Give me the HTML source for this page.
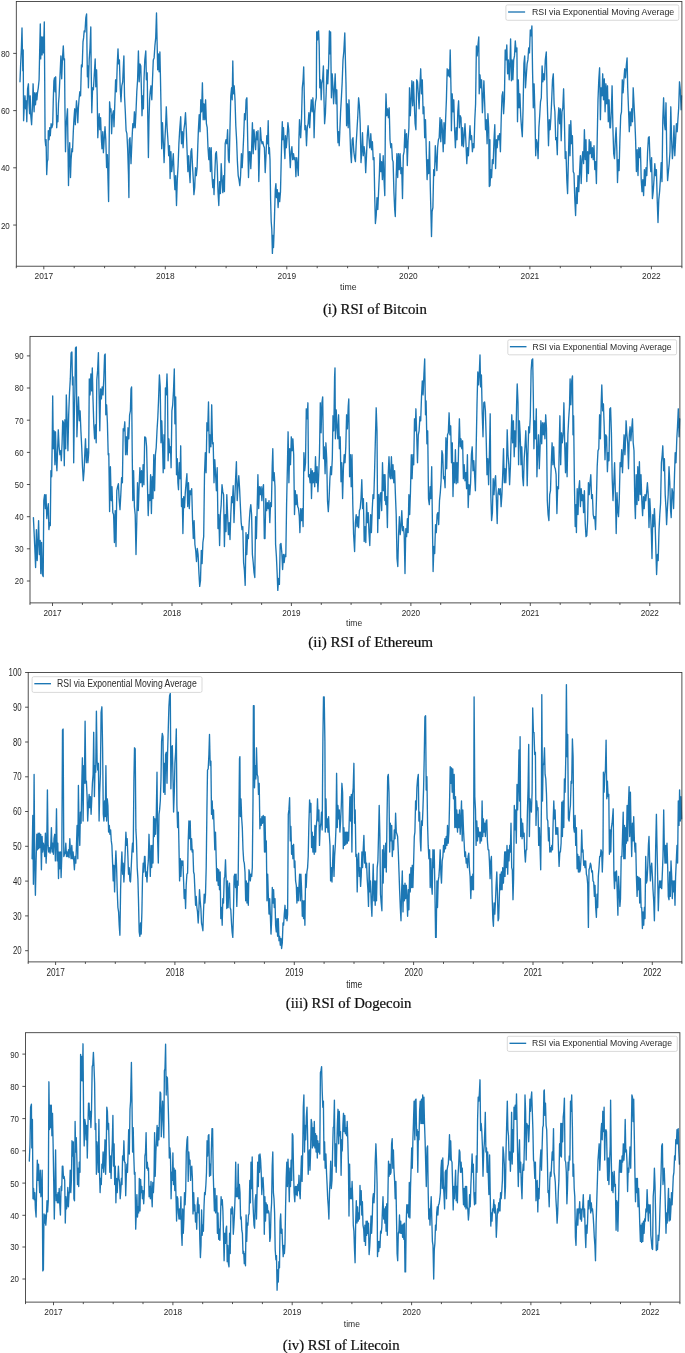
<!DOCTYPE html>
<html><head><meta charset="utf-8"><title>RSI</title>
<style>html,body{margin:0;padding:0;background:#fff}svg{display:block}text{font-family:"Liberation Sans",sans-serif;fill:#2a2a2a}.cap{font-family:"Liberation Serif",serif;fill:#111}</style></head><body>
<svg width="685" height="1353" viewBox="0 0 685 1353">
<defs><filter id="b" x="-2%" y="-2%" width="104%" height="104%"><feGaussianBlur stdDeviation="0.45"/></filter></defs>
<rect width="685" height="1353" fill="#fff"/>
<g filter="url(#b)">
<polyline points="20.0,81.8 20.6,65.9 21.4,47.9 22.0,27.9 22.4,48.9 22.8,70.8 23.2,49.9 23.6,120.7 24.4,103.8 25.0,95.8 25.6,108.8 26.2,100.8 26.8,121.7 27.6,88.8 28.4,83.8 29.0,103.8 29.6,113.7 30.2,95.8 30.8,115.7 31.6,124.7 32.4,107.8 33.1,83.8 33.7,101.8 34.1,111.8 34.7,92.8 35.5,104.8 36.3,92.8 36.9,99.8 37.5,92.8 38.3,87.8 39.1,79.8 39.7,49.9 40.3,23.9 40.7,58.9 41.5,36.9 42.1,54.9 42.9,36.9 43.5,52.9 44.3,22.0 44.7,79.8 45.1,139.7 45.7,145.7 46.1,139.7 46.7,174.6 47.3,161.6 47.9,159.6 48.3,130.7 49.1,139.7 49.7,127.7 50.3,135.7 51.1,123.7 51.9,127.7 52.7,124.7 53.3,99.8 53.9,80.8 54.5,77.8 55.1,91.8 55.7,76.8 56.3,107.8 56.7,127.7 57.3,115.7 57.9,121.7 58.5,103.8 59.1,95.8 59.9,77.8 60.9,55.9 61.7,78.8 62.5,57.9 63.3,45.9 63.9,59.9 64.5,58.9 64.9,103.8 65.5,151.7 66.1,127.7 66.7,117.7 67.5,108.8 67.9,139.7 68.5,185.6 69.1,155.7 69.7,142.7 70.5,177.6 71.1,159.6 71.9,148.7 72.5,151.7 73.3,131.7 73.9,119.7 74.7,108.8 75.3,124.7 75.9,111.8 76.5,100.8 77.3,111.8 77.8,122.7 78.4,107.8 79.0,99.8 79.8,91.8 80.6,95.8 81.4,64.9 82.2,66.9 83.0,41.9 83.6,37.9 84.2,30.9 85.0,31.9 85.8,18.0 86.6,14.0 87.0,49.9 87.4,76.8 88.0,65.9 88.4,87.8 89.2,59.9 90.0,47.9 90.8,26.9 91.2,69.8 91.8,112.7 92.6,87.8 93.4,89.8 94.2,75.8 95.2,58.9 95.8,86.8 96.6,69.8 97.2,95.8 97.8,137.7 98.6,119.7 99.2,113.7 99.8,129.7 100.6,117.7 101.4,139.7 102.0,148.7 102.8,131.7 103.4,152.7 104.2,139.7 105.0,126.7 105.8,139.7 106.6,167.6 107.4,154.7 108.0,179.6 108.6,201.6 109.0,159.6 109.6,101.8 110.4,111.8 111.0,108.8 111.6,133.7 112.4,115.7 113.4,110.8 114.0,126.7 114.8,103.8 115.6,79.8 116.4,91.8 117.2,65.9 118.0,48.9 118.6,63.9 119.4,59.9 120.2,87.8 121.0,101.8 121.8,85.8 122.7,81.8 123.3,67.8 123.9,55.9 124.5,95.8 125.3,111.8 126.1,130.7 126.9,133.7 127.7,149.7 128.5,175.6 128.9,197.6 129.3,139.7 130.0,137.7 131.0,163.6 132.0,139.7 132.8,123.7 133.6,127.7 134.4,111.8 135.2,127.7 136.0,111.8 136.8,91.8 137.6,79.8 138.4,50.9 139.2,81.8 140.0,63.9 140.8,65.9 141.4,89.8 142.0,115.7 142.8,95.8 143.4,108.8 144.0,79.8 144.8,59.9 145.8,50.9 146.4,79.8 147.2,72.8 147.8,119.7 148.4,157.6 149.0,119.7 149.6,99.8 150.2,91.8 151.0,85.8 151.8,99.8 152.5,79.8 153.3,59.9 154.1,57.9 154.9,45.9 155.7,37.9 156.5,13.0 157.1,41.9 157.7,69.8 158.5,53.9 159.1,71.8 159.9,51.9 160.5,79.8 161.1,111.8 161.7,148.7 162.5,122.7 163.3,141.7 164.1,162.6 164.9,139.7 165.7,123.7 166.3,106.8 167.1,127.7 167.9,139.7 168.7,155.7 169.5,145.7 170.1,178.6 170.9,151.7 171.7,171.6 172.5,163.6 173.3,153.7 174.1,173.6 174.9,189.6 175.7,175.6 176.5,205.5 177.3,179.6 178.1,165.6 178.9,143.7 179.7,129.7 180.7,116.7 181.5,143.7 182.3,131.7 183.1,147.7 183.9,129.7 184.7,123.7 185.5,112.7 186.3,129.7 187.1,151.7 187.9,171.6 188.7,155.7 189.5,173.6 190.1,182.6 190.9,151.7 191.7,148.7 192.5,165.6 193.3,179.6 193.9,194.6 194.7,187.6 195.5,167.6 196.3,175.6 197.1,167.6 197.8,145.7 198.4,129.7 199.2,114.7 200.0,131.7 200.8,99.8 201.6,111.8 202.4,82.8 203.2,119.7 204.0,103.8 204.8,119.7 205.6,99.8 206.4,123.7 207.2,127.7 208.0,147.7 208.8,159.6 209.6,147.7 210.4,171.6 211.2,147.7 212.0,175.6 212.8,187.6 213.6,179.6 214.0,194.6 214.8,173.6 215.6,153.7 216.4,151.7 217.2,165.6 218.0,191.6 218.8,205.5 219.6,181.6 220.4,193.6 221.2,163.6 222.0,179.6 222.8,192.6 223.6,175.6 224.4,191.6 225.2,143.7 226.0,139.7 226.8,143.7 227.6,129.7 228.4,159.6 229.2,162.6 230.0,127.7 230.8,95.8 231.6,87.8 232.2,99.8 232.8,60.9 233.4,93.8 234.2,85.8 235.0,99.8 235.8,125.7 236.6,139.7 237.4,161.6 238.2,175.6 239.0,179.6 239.8,185.6 240.6,175.6 241.4,153.7 242.2,167.6 242.9,153.7 243.7,135.7 244.5,113.7 245.3,119.7 246.1,99.8 246.9,97.8 247.7,139.7 248.5,177.6 249.3,151.7 249.9,157.6 250.0,151.7 250.8,168.6 251.6,149.7 252.4,122.7 253.2,153.7 254.0,129.7 254.8,139.7 255.6,149.7 256.4,131.7 257.2,139.7 258.0,130.7 258.8,181.6 259.6,151.7 260.4,127.7 261.2,139.7 262.0,143.7 262.8,141.7 263.6,145.7 264.4,147.7 265.2,172.6 266.0,155.7 266.8,135.7 267.6,143.7 268.2,120.7 268.8,153.7 269.4,147.7 270.0,159.6 270.6,199.6 271.2,221.5 271.8,229.5 272.4,253.4 272.9,235.5 273.5,247.5 274.1,231.5 274.7,209.5 275.3,189.6 275.9,183.6 276.5,197.6 277.3,189.6 278.1,207.5 278.9,192.6 279.7,201.6 280.5,191.6 281.1,165.6 281.7,139.7 282.3,121.7 282.9,139.7 283.5,127.7 284.3,147.7 284.9,158.6 285.5,135.7 286.3,147.7 287.1,137.7 287.9,122.7 288.7,129.7 289.5,151.7 290.3,167.6 291.1,151.7 291.9,146.7 292.7,159.6 293.5,153.7 294.3,159.6 295.1,157.6 295.9,176.6 296.7,157.6 297.5,165.6 298.3,175.6 298.9,139.7 299.5,119.7 300.1,131.7 300.7,137.7 301.5,119.7 302.3,87.8 303.1,79.8 303.7,66.9 304.3,95.8 304.9,129.7 305.7,125.7 306.5,145.7 307.3,127.7 308.1,123.7 308.9,112.7 309.7,127.7 310.5,111.8 311.3,99.8 312.1,111.8 312.9,97.8 313.7,114.7 314.1,137.7 314.7,113.7 315.5,101.8 316.3,97.8 316.7,31.9 317.5,39.9 318.0,31.9 318.6,30.9 319.2,45.9 319.8,87.8 320.6,79.8 321.2,99.8 321.8,83.8 322.6,79.8 323.4,65.9 324.0,99.8 324.6,123.7 325.4,113.7 326.2,91.8 327.0,69.8 327.8,83.8 328.6,65.9 329.4,30.9 330.0,53.9 330.6,31.9 331.4,97.8 332.2,73.8 333.0,87.8 333.6,103.8 334.4,89.8 335.2,73.8 336.0,103.8 336.8,89.8 337.4,127.7 338.0,142.7 338.6,131.7 339.2,145.7 339.8,131.7 340.6,111.8 341.4,97.8 342.2,81.8 343.0,59.9 343.8,51.9 344.8,32.9 345.4,59.9 346.0,83.8 346.6,125.7 347.4,103.8 348.2,127.7 349.0,99.8 349.8,127.7 350.6,151.7 351.4,162.6 352.2,139.7 353.0,137.7 353.8,151.7 354.6,157.6 355.4,161.6 356.2,143.7 357.0,129.7 357.8,115.7 358.6,97.8 359.4,105.8 360.2,123.7 361.0,162.6 361.8,151.7 362.5,132.7 363.3,155.7 364.1,146.7 364.9,153.7 365.7,172.6 366.5,155.7 367.3,135.7 368.1,125.7 368.9,137.7 369.7,147.7 370.0,147.7 370.8,133.7 371.6,149.7 372.4,141.7 373.2,159.6 374.0,157.6 374.8,199.6 375.4,223.5 376.2,215.5 377.0,197.6 377.8,209.5 378.6,191.6 379.4,173.6 380.0,153.7 380.8,171.6 381.6,161.6 382.4,179.6 383.2,155.7 384.0,179.6 384.8,195.6 385.4,119.7 386.0,93.8 386.8,115.7 387.6,108.8 388.4,117.7 389.2,107.8 390.0,139.7 390.8,147.7 391.6,143.7 392.4,159.6 393.1,161.6 393.9,191.6 394.7,209.5 395.3,216.5 396.1,179.6 396.9,153.7 397.7,177.6 398.5,153.7 399.3,169.6 400.1,153.7 400.9,173.6 401.7,167.6 402.5,198.6 403.3,155.7 404.1,151.7 404.9,129.7 405.7,147.7 406.5,133.7 407.3,165.6 408.1,139.7 408.9,127.7 409.5,87.8 410.3,115.7 411.1,99.8 411.9,80.8 412.7,105.8 413.5,81.8 414.3,103.8 415.1,123.7 415.9,129.7 416.7,79.8 417.5,81.8 418.3,93.8 419.1,108.8 419.9,85.8 420.7,68.8 421.5,93.8 422.3,79.8 423.1,113.7 423.9,106.8 424.7,137.7 425.5,119.7 426.3,151.7 427.1,179.6 427.9,159.6 428.7,173.6 429.5,141.7 430.3,187.6 430.9,211.5 431.5,236.5 432.1,211.5 432.9,207.5 433.7,169.6 434.5,175.6 435.3,145.7 436.1,159.6 436.9,170.6 437.6,147.7 438.4,139.7 439.2,137.7 440.0,117.7 440.8,141.7 441.6,119.7 442.4,129.7 443.2,151.7 444.0,122.7 444.8,143.7 445.6,119.7 446.4,99.8 447.2,68.8 448.0,75.8 448.8,69.8 449.6,76.8 450.2,49.9 451.0,89.8 451.4,130.7 452.2,93.8 453.0,111.8 453.8,99.8 454.6,129.7 455.4,147.7 456.2,127.7 457.0,139.7 457.8,111.8 458.6,100.8 459.4,127.7 460.2,115.7 461.0,117.7 461.8,145.7 462.6,127.7 463.4,146.7 464.2,135.7 465.0,123.7 465.8,139.7 466.8,163.6 467.6,147.7 468.4,155.7 469.2,139.7 470.0,125.7 470.8,139.7 471.6,135.7 472.4,151.7 473.2,143.7 474.0,147.7 474.8,119.7 475.6,103.8 476.4,45.9 477.2,55.9 478.0,44.9 478.8,36.9 479.2,93.8 480.0,74.8 480.8,87.8 481.6,79.8 482.4,112.7 483.1,97.8 483.9,80.8 484.7,103.8 485.5,129.7 486.3,119.7 487.1,143.7 487.9,113.7 488.7,127.7 489.3,186.6 489.9,139.7 490.0,185.6 490.8,169.6 491.6,177.6 492.4,159.6 493.2,163.6 494.0,139.7 494.8,124.7 495.6,168.6 496.4,139.7 497.2,147.7 498.0,135.7 498.8,139.7 499.6,133.7 500.4,151.7 501.2,119.7 502.0,95.8 502.8,91.8 503.6,113.7 504.4,99.8 505.2,49.9 506.0,59.9 506.8,44.9 507.6,73.8 508.4,59.9 509.2,79.8 510.0,61.9 510.6,38.9 511.4,80.8 512.2,59.9 512.9,79.8 513.7,59.9 514.5,55.9 515.3,40.9 516.1,51.9 516.9,47.9 517.5,121.7 518.3,79.8 519.1,107.8 519.9,93.8 520.7,115.7 521.5,127.7 522.3,136.7 523.1,107.8 523.9,63.9 524.7,55.9 525.5,87.8 526.3,75.8 527.1,63.9 527.9,59.9 528.7,47.9 529.5,52.9 530.3,29.9 531.1,35.9 531.9,25.9 532.5,67.8 533.3,107.8 534.1,83.8 534.9,111.8 535.7,155.7 536.5,139.7 537.3,143.7 538.1,158.6 538.9,127.7 539.7,115.7 540.5,101.8 541.3,97.8 542.1,65.9 542.9,81.8 543.7,73.8 544.5,79.8 545.3,59.9 546.3,51.9 547.1,95.8 547.9,123.7 548.5,145.7 549.3,119.7 550.1,129.7 550.9,117.7 551.7,99.8 552.5,79.8 553.3,73.8 554.1,103.8 554.9,111.8 555.7,139.7 556.5,137.7 557.3,154.7 558.0,119.7 558.8,107.8 559.6,123.7 560.4,108.8 561.2,140.7 562.0,111.8 562.8,107.8 563.6,88.8 564.4,119.7 565.2,158.6 566.0,151.7 566.8,179.6 567.6,193.6 568.4,159.6 569.2,124.7 570.0,155.7 570.8,120.7 571.6,143.7 572.4,135.7 573.2,171.6 574.0,173.6 574.8,199.6 575.6,215.5 576.4,187.6 577.2,203.5 578.0,175.6 578.8,191.6 579.6,171.6 580.4,155.7 581.2,183.6 582.0,159.6 582.8,151.7 583.6,163.6 584.4,129.7 585.2,159.6 586.0,139.7 586.8,181.6 587.6,151.7 588.4,173.6 589.2,139.7 590.0,153.7 590.8,141.7 591.6,157.6 592.4,147.7 593.2,159.6 594.0,145.7 594.8,169.6 595.6,161.6 596.4,183.6 597.2,139.7 598.0,99.8 598.8,79.8 599.6,67.8 600.4,119.7 601.2,87.8 602.0,95.8 602.7,73.8 603.5,99.8 604.3,78.8 605.1,111.8 605.9,83.8 606.7,103.8 607.5,85.8 608.3,121.7 609.1,99.8 609.9,127.7 610.5,127.7 611.3,111.8 612.1,85.8 612.9,127.7 613.7,153.7 614.5,158.6 615.3,139.7 616.1,127.7 616.9,151.7 617.5,182.6 618.3,159.6 619.1,170.6 619.9,139.7 620.7,115.7 621.5,111.8 622.3,79.8 623.1,92.8 623.9,79.8 624.7,68.8 625.5,77.8 626.3,65.9 627.1,57.9 627.7,87.8 628.5,108.8 629.3,131.7 630.1,111.8 630.9,125.7 631.7,108.8 632.5,121.7 633.2,87.8 634.0,103.8 634.8,119.7 635.6,139.7 636.4,171.6 637.2,149.7 638.0,175.6 638.8,147.7 639.6,157.6 640.4,147.7 641.2,179.6 642.0,191.6 642.8,179.6 643.6,195.6 644.4,169.6 645.2,185.6 646.0,167.6 646.8,175.6 647.6,151.7 648.4,137.7 649.2,136.7 650.0,159.6 650.8,171.6 651.6,157.6 652.4,198.6 653.2,191.6 654.0,179.6 654.8,163.6 655.6,175.6 656.4,169.6 657.2,199.6 658.0,222.5 658.8,199.6 659.6,191.6 660.4,179.6 661.2,162.6 662.0,181.6 662.8,119.7 663.6,97.8 664.4,123.7 665.2,129.7 666.0,102.8 666.8,155.7 667.6,180.6 668.4,171.6 669.2,163.6 670.0,151.7 670.8,106.8 671.6,139.7 672.4,158.6 673.2,147.7 674.0,125.7 674.8,155.7 675.6,139.7 676.4,123.7 677.2,131.7 677.9,119.7 678.7,107.8 679.5,81.8 680.3,89.8 681.1,109.8 681.5,95.8" fill="none" stroke="#1f77b4" stroke-width="1.35" stroke-linejoin="round" stroke-linecap="round"/>
<rect x="16.3" y="1.5" width="665.6" height="264.7" fill="none" stroke="#333333" stroke-width="0.85"/>
<line x1="43.8" y1="266.2" x2="43.8" y2="269.3" stroke="#333333" stroke-width="0.85"/>
<line x1="74.2" y1="266.2" x2="74.2" y2="268.2" stroke="#333333" stroke-width="0.85"/>
<line x1="104.6" y1="266.2" x2="104.6" y2="268.2" stroke="#333333" stroke-width="0.85"/>
<line x1="134.9" y1="266.2" x2="134.9" y2="268.2" stroke="#333333" stroke-width="0.85"/>
<line x1="165.3" y1="266.2" x2="165.3" y2="269.3" stroke="#333333" stroke-width="0.85"/>
<line x1="195.7" y1="266.2" x2="195.7" y2="268.2" stroke="#333333" stroke-width="0.85"/>
<line x1="226.1" y1="266.2" x2="226.1" y2="268.2" stroke="#333333" stroke-width="0.85"/>
<line x1="256.5" y1="266.2" x2="256.5" y2="268.2" stroke="#333333" stroke-width="0.85"/>
<line x1="286.8" y1="266.2" x2="286.8" y2="269.3" stroke="#333333" stroke-width="0.85"/>
<line x1="317.2" y1="266.2" x2="317.2" y2="268.2" stroke="#333333" stroke-width="0.85"/>
<line x1="347.6" y1="266.2" x2="347.6" y2="268.2" stroke="#333333" stroke-width="0.85"/>
<line x1="378.0" y1="266.2" x2="378.0" y2="268.2" stroke="#333333" stroke-width="0.85"/>
<line x1="408.4" y1="266.2" x2="408.4" y2="269.3" stroke="#333333" stroke-width="0.85"/>
<line x1="438.7" y1="266.2" x2="438.7" y2="268.2" stroke="#333333" stroke-width="0.85"/>
<line x1="469.1" y1="266.2" x2="469.1" y2="268.2" stroke="#333333" stroke-width="0.85"/>
<line x1="499.5" y1="266.2" x2="499.5" y2="268.2" stroke="#333333" stroke-width="0.85"/>
<line x1="529.9" y1="266.2" x2="529.9" y2="269.3" stroke="#333333" stroke-width="0.85"/>
<line x1="560.3" y1="266.2" x2="560.3" y2="268.2" stroke="#333333" stroke-width="0.85"/>
<line x1="590.6" y1="266.2" x2="590.6" y2="268.2" stroke="#333333" stroke-width="0.85"/>
<line x1="621.0" y1="266.2" x2="621.0" y2="268.2" stroke="#333333" stroke-width="0.85"/>
<line x1="651.4" y1="266.2" x2="651.4" y2="269.3" stroke="#333333" stroke-width="0.85"/>
<line x1="16.3" y1="266.2" x2="16.3" y2="268.2" stroke="#333333" stroke-width="0.85"/>
<line x1="681.9" y1="266.2" x2="681.9" y2="268.2" stroke="#333333" stroke-width="0.85"/>
<text x="43.8" y="278.9" font-size="9.60" text-anchor="middle" textLength="18.6" lengthAdjust="spacingAndGlyphs">2017</text>
<text x="165.3" y="278.9" font-size="9.60" text-anchor="middle" textLength="18.6" lengthAdjust="spacingAndGlyphs">2018</text>
<text x="286.8" y="278.9" font-size="9.60" text-anchor="middle" textLength="18.6" lengthAdjust="spacingAndGlyphs">2019</text>
<text x="408.4" y="278.9" font-size="9.60" text-anchor="middle" textLength="18.6" lengthAdjust="spacingAndGlyphs">2020</text>
<text x="529.9" y="278.9" font-size="9.60" text-anchor="middle" textLength="18.6" lengthAdjust="spacingAndGlyphs">2021</text>
<text x="651.4" y="278.9" font-size="9.60" text-anchor="middle" textLength="18.6" lengthAdjust="spacingAndGlyphs">2022</text>
<line x1="13.2" y1="53.4" x2="16.3" y2="53.4" stroke="#333333" stroke-width="0.85"/>
<text x="0.9" y="56.9" font-size="9.60" textLength="8.9" lengthAdjust="spacingAndGlyphs">80</text>
<line x1="13.2" y1="110.6" x2="16.3" y2="110.6" stroke="#333333" stroke-width="0.85"/>
<text x="0.9" y="114.0" font-size="9.60" textLength="8.9" lengthAdjust="spacingAndGlyphs">60</text>
<line x1="13.2" y1="167.8" x2="16.3" y2="167.8" stroke="#333333" stroke-width="0.85"/>
<text x="0.9" y="171.2" font-size="9.60" textLength="8.9" lengthAdjust="spacingAndGlyphs">40</text>
<line x1="13.2" y1="225.05" x2="16.3" y2="225.05" stroke="#333333" stroke-width="0.85"/>
<text x="0.9" y="228.5" font-size="9.60" textLength="8.9" lengthAdjust="spacingAndGlyphs">20</text>
<text x="348.3" y="290.0" font-size="9.60" text-anchor="middle" textLength="16.4" lengthAdjust="spacingAndGlyphs">time</text>
<rect x="505.9" y="4.9" width="172.9" height="15.4" rx="1.6" fill="#fff" fill-opacity="0.8" stroke="#cfcfcf" stroke-width="0.8"/>
<line x1="508.1" y1="12.0" x2="525.1" y2="12.0" stroke="#1f77b4" stroke-width="1.35"/>
<text x="531.9" y="15.2" font-size="9.60" textLength="142.3" lengthAdjust="spacingAndGlyphs">RSI via Exponential Moving Average</text>
<text class="cap" stroke="#111" stroke-width="0.22" x="322.9" y="313.7" font-size="14.3" textLength="103.9" lengthAdjust="spacingAndGlyphs">(i) RSI of Bitcoin</text>
<polyline points="33.4,517.6 34.2,534.6 35.0,552.5 35.6,567.5 36.4,529.6 37.2,560.5 38.0,540.5 38.6,520.6 39.4,554.5 40.2,540.5 40.8,573.5 41.6,542.5 42.4,574.5 43.2,576.5 43.8,500.6 44.6,494.6 45.4,508.6 46.0,494.6 46.8,518.6 47.5,510.6 48.3,503.6 48.9,529.6 49.7,522.6 50.3,525.6 50.9,470.7 51.7,476.7 52.3,434.8 52.7,395.9 53.3,448.7 54.1,430.8 54.9,464.7 55.5,431.8 56.3,460.7 56.9,470.7 57.7,446.8 58.3,429.8 59.1,446.8 59.9,454.7 60.7,450.7 61.3,460.7 62.1,442.8 62.7,420.8 63.5,422.8 64.3,465.7 64.9,419.8 65.7,448.7 66.3,394.9 67.1,418.8 67.9,450.7 68.7,414.8 69.5,392.9 70.3,378.9 71.1,353.0 71.9,352.0 72.5,384.9 73.1,376.9 73.7,462.7 74.3,414.8 74.9,392.9 75.5,348.0 76.3,347.0 76.9,436.8 77.7,414.8 78.5,396.9 79.3,420.8 80.1,410.8 80.9,430.8 81.7,446.8 82.5,466.7 83.3,480.7 84.1,470.7 84.9,450.7 85.5,438.8 86.3,462.7 87.1,448.7 87.9,462.7 88.7,452.7 89.3,378.9 90.1,394.9 90.9,373.9 91.7,390.9 92.3,367.9 93.0,398.9 93.8,424.8 94.6,438.8 95.4,424.8 96.2,442.8 96.8,379.9 97.6,370.9 98.4,352.6 99.0,390.9 99.8,430.8 100.6,388.9 101.4,398.9 102.2,386.9 103.0,394.9 103.8,378.9 104.6,355.0 105.2,354.0 105.8,414.8 106.6,404.8 107.4,422.8 108.2,454.7 108.8,453.7 109.6,511.6 110.4,466.7 111.2,500.6 112.0,486.7 112.8,512.6 113.6,514.6 114.4,542.5 115.2,510.6 116.0,546.5 116.8,490.7 117.6,486.7 118.4,483.7 119.2,500.6 120.0,509.6 120.8,494.6 121.6,477.7 122.4,482.7 123.2,428.8 124.0,430.8 124.8,421.8 125.6,454.7 126.4,436.8 127.2,454.7 128.0,427.8 128.8,438.8 129.6,414.8 130.4,410.8 131.0,388.9 131.6,386.9 132.2,450.7 132.8,500.6 133.6,470.7 134.4,506.6 135.2,514.6 136.0,554.5 136.8,520.6 137.5,482.7 138.3,510.6 139.1,486.7 139.9,467.7 140.7,482.7 141.5,470.7 142.3,486.7 143.1,464.7 143.9,484.7 144.7,436.8 145.0,436.8 145.8,437.8 146.6,446.8 147.4,482.7 148.2,515.6 149.0,494.6 149.8,500.6 150.6,474.7 151.4,513.6 152.2,476.7 153.0,498.6 153.8,454.7 154.6,490.7 155.4,454.7 156.2,447.7 157.0,430.8 157.8,417.8 158.6,398.9 159.4,374.9 160.2,386.9 161.0,442.8 161.8,420.8 162.6,446.8 163.2,472.7 164.0,434.8 164.6,468.7 165.4,387.9 166.2,394.9 167.0,373.9 167.5,390.9 168.1,460.7 168.9,438.8 169.7,452.7 170.5,446.8 171.1,467.7 171.9,410.8 172.7,404.8 173.5,390.9 174.3,368.9 174.9,423.8 175.7,396.9 176.5,474.7 177.3,458.7 177.9,482.7 178.5,489.7 179.3,462.7 180.1,478.7 180.7,445.8 181.5,506.6 182.3,498.6 182.9,533.6 183.7,496.6 184.5,507.6 185.3,492.6 186.1,482.7 186.9,473.7 187.7,506.6 188.5,482.7 189.3,508.6 190.1,490.7 190.9,494.6 191.7,488.7 192.5,518.6 193.3,538.5 194.1,520.6 194.9,544.5 195.7,550.5 196.5,561.5 197.3,548.5 198.1,554.5 198.9,572.5 199.7,586.4 200.5,580.5 201.3,550.5 202.1,563.5 202.9,542.5 203.7,536.6 204.5,474.7 205.3,452.7 206.1,472.7 206.9,422.8 207.7,430.8 208.5,401.9 209.3,452.7 210.1,434.8 210.9,446.8 211.7,404.8 212.5,443.8 213.2,442.8 214.0,482.7 214.8,459.7 215.6,474.7 216.4,490.7 217.2,467.7 218.0,528.6 218.8,514.6 219.6,545.5 220.4,514.6 221.2,504.6 222.0,484.7 222.8,491.7 223.6,494.6 224.4,546.5 225.2,514.6 226.0,531.6 226.8,494.6 227.6,514.6 228.4,534.6 229.2,522.6 230.0,539.5 230.8,514.6 231.6,496.6 232.4,502.6 233.2,485.7 234.0,522.6 234.8,498.6 235.6,478.7 236.4,461.7 237.2,500.6 238.0,486.7 238.8,475.7 239.6,488.7 240.4,506.6 241.2,522.6 242.0,529.6 242.8,526.6 243.6,562.5 244.4,570.5 245.2,585.4 246.0,532.6 246.8,554.5 247.6,534.6 248.4,538.5 249.2,522.6 250.0,510.6 250.8,504.6 251.6,514.6 252.4,554.5 253.2,562.5 254.0,572.5 254.8,577.5 255.6,516.6 256.4,538.5 257.2,506.6 257.9,474.7 258.7,508.6 259.5,486.7 260.3,494.6 261.1,486.7 261.9,500.6 262.7,488.7 263.5,484.7 264.3,538.5 265.0,538.5 265.8,498.6 266.6,510.6 267.4,502.6 268.2,508.6 269.0,500.6 269.8,522.6 270.6,502.6 271.4,506.6 272.2,466.7 272.8,448.7 273.4,480.7 274.2,472.7 275.0,486.7 275.6,544.5 276.4,556.5 277.2,574.5 277.8,590.4 278.6,578.5 279.4,584.4 280.2,544.5 281.0,543.5 281.8,552.5 282.6,569.5 283.4,554.5 284.2,562.5 285.0,554.5 285.8,556.5 286.6,504.6 287.4,466.7 288.1,431.8 288.9,482.7 289.7,448.7 290.5,464.7 291.3,436.8 292.1,450.7 292.9,438.8 293.7,454.7 294.5,514.6 295.3,490.7 296.1,504.6 296.9,494.6 297.7,506.6 298.5,508.6 299.3,516.6 299.9,532.6 300.7,508.6 301.5,520.6 302.3,508.6 303.1,526.6 303.9,452.7 304.7,470.7 305.5,462.7 306.3,408.8 307.1,418.8 307.9,402.8 308.5,476.7 309.3,474.7 310.1,482.7 310.9,468.7 311.5,498.6 312.3,470.7 313.1,482.7 313.9,472.7 314.7,486.7 315.5,456.7 316.3,482.7 317.1,466.7 317.9,491.7 318.7,474.7 319.5,452.7 320.3,402.8 321.1,432.8 321.9,402.8 322.7,396.9 323.5,458.7 324.3,446.8 325.1,473.7 325.9,442.8 326.7,458.7 327.5,500.6 328.3,511.6 329.1,498.6 329.9,478.7 330.7,466.7 331.5,474.7 332.3,458.7 333.0,415.8 333.8,430.8 334.6,376.9 335.0,367.9 335.4,438.8 336.2,409.8 337.0,426.8 337.8,438.8 338.6,414.8 339.4,448.7 340.2,436.8 341.0,481.7 341.8,462.7 342.6,498.6 343.4,468.7 344.2,454.7 345.0,462.7 345.8,446.8 346.6,414.8 347.4,428.8 348.2,406.8 348.8,398.9 349.6,476.7 350.4,454.7 351.2,486.7 352.0,454.7 352.8,504.6 353.6,534.6 354.6,551.5 355.4,522.6 356.2,514.6 357.0,526.6 357.8,516.6 358.6,527.6 359.4,510.6 360.2,508.6 361.0,498.6 361.8,479.7 362.6,508.6 363.4,498.6 364.2,541.5 365.0,526.6 365.8,542.5 366.6,502.6 367.4,522.6 368.2,512.6 369.0,532.6 369.8,545.5 370.6,514.6 371.4,532.6 372.2,510.6 373.0,494.6 373.8,498.6 374.6,470.7 375.4,438.8 376.2,407.8 377.0,430.8 377.7,532.6 378.5,494.6 379.3,518.6 380.1,494.6 380.9,492.6 381.7,510.6 382.5,462.7 383.3,490.7 384.1,474.7 384.9,500.6 385.0,474.7 385.8,504.6 386.6,496.6 387.4,527.6 388.2,474.7 389.0,456.7 389.8,476.7 390.6,478.7 391.4,456.7 392.2,478.7 393.0,464.7 393.8,482.7 394.6,470.7 395.4,494.6 396.2,514.6 397.0,558.5 397.8,566.5 398.6,534.6 399.4,516.6 400.2,534.6 401.0,526.6 401.8,510.6 402.6,530.6 403.4,526.6 404.2,534.6 405.0,573.5 405.8,528.6 406.6,536.6 407.4,518.6 408.1,532.6 408.9,494.6 409.7,514.6 410.5,490.7 411.3,454.7 412.1,478.7 412.9,454.7 413.7,464.7 414.5,418.8 415.3,430.8 415.9,408.8 416.7,434.8 417.5,462.7 418.3,434.8 419.1,430.8 419.9,416.8 420.7,420.8 421.5,396.9 422.3,380.9 423.1,394.9 423.9,374.9 424.7,358.9 425.5,414.8 426.1,400.9 426.9,443.8 427.7,430.8 428.5,498.6 429.3,504.6 430.1,486.7 430.9,498.6 431.7,466.7 432.3,514.6 433.1,571.5 433.9,546.5 434.7,553.5 435.5,524.6 436.3,532.6 437.1,514.6 437.9,512.6 438.7,524.6 439.5,500.6 440.3,492.6 441.1,480.7 441.9,450.7 442.7,454.7 443.5,478.7 444.3,476.7 445.1,487.7 445.9,437.8 446.7,468.7 447.5,434.8 448.3,432.8 449.1,412.8 449.9,434.8 450.7,425.8 451.5,462.7 452.3,442.8 453.0,496.6 453.8,462.7 454.6,482.7 455.4,449.7 456.2,483.7 457.0,462.7 457.8,482.7 458.6,446.8 459.4,418.8 460.2,446.8 461.0,438.8 461.8,448.7 462.6,440.8 463.4,478.7 464.2,464.7 465.0,480.7 465.8,472.7 466.6,488.7 467.4,454.7 468.2,507.6 469.0,484.7 469.8,494.6 470.6,482.7 471.4,454.7 472.2,446.8 473.0,470.7 473.8,460.7 474.6,474.7 475.4,490.7 476.2,446.8 477.0,404.8 477.8,371.9 478.6,384.9 479.4,370.9 480.0,355.0 480.6,386.9 481.4,374.9 482.2,412.8 483.0,436.8 483.8,402.8 484.6,401.9 485.4,410.8 486.2,438.8 487.0,474.7 487.8,458.7 488.6,484.7 489.4,454.7 490.2,413.8 490.8,494.6 491.6,520.6 492.4,512.6 493.2,478.7 494.0,494.6 494.8,480.7 495.6,475.7 496.4,500.6 497.2,523.6 497.9,494.6 498.7,488.7 499.5,494.6 500.3,488.7 501.1,506.6 501.9,494.6 502.7,474.7 503.5,448.7 504.3,482.7 504.9,468.7 505.0,468.7 505.8,482.7 506.6,462.7 507.2,429.8 508.0,454.7 508.8,464.7 509.6,484.7 510.4,466.7 511.2,434.8 511.8,414.8 512.6,442.8 513.4,420.8 514.2,456.7 515.0,430.8 515.8,446.8 516.6,404.8 517.2,383.9 518.0,402.8 518.6,464.7 519.4,420.8 520.2,434.8 521.0,464.7 521.8,446.8 522.6,476.7 523.4,485.7 524.2,458.7 525.0,446.8 525.8,430.8 526.6,454.7 527.2,485.7 527.9,454.7 528.7,426.8 529.5,432.8 530.3,416.8 531.1,370.9 531.9,359.9 532.7,358.9 533.3,394.9 533.9,448.7 534.7,420.8 535.5,438.8 536.3,408.8 536.9,476.7 537.7,452.7 538.5,434.8 539.3,468.7 540.1,446.8 540.9,420.8 541.7,443.8 542.5,422.8 543.3,434.8 544.1,422.8 544.9,438.8 545.7,414.8 546.5,428.8 547.3,500.6 548.1,514.6 548.9,520.6 549.7,494.6 550.5,490.7 551.3,462.7 552.1,442.8 552.9,464.7 553.7,446.8 554.5,466.7 555.3,468.7 556.1,474.7 556.9,513.6 557.7,486.7 558.5,488.7 559.3,442.8 559.9,415.8 560.7,464.7 561.5,432.8 562.3,442.8 563.1,434.8 563.9,402.8 564.7,444.8 565.5,472.7 566.3,442.8 567.1,476.7 567.9,434.8 568.7,418.8 569.5,406.8 570.1,378.9 570.9,404.8 571.7,380.9 572.5,375.9 573.0,434.8 573.6,415.8 574.4,482.7 575.2,526.6 576.0,504.6 576.4,532.6 577.2,488.7 578.0,514.6 578.8,488.7 579.6,480.7 580.4,506.6 581.2,488.7 582.0,500.6 582.8,494.6 583.6,512.6 584.4,490.7 585.2,522.6 586.0,536.6 586.8,535.6 587.6,520.6 588.4,482.7 589.2,494.6 590.0,482.7 590.8,474.7 591.6,498.6 592.4,494.6 593.2,514.6 594.0,518.6 594.8,516.6 595.6,529.6 596.4,500.6 597.2,466.7 598.0,450.7 598.8,448.7 599.6,414.8 600.4,438.8 601.2,402.8 601.8,384.9 602.6,410.8 603.4,403.8 604.2,426.8 605.0,459.7 605.8,434.8 606.6,436.8 607.4,471.7 608.2,452.7 609.0,460.7 609.8,408.8 610.6,407.8 611.4,432.8 612.2,478.7 613.0,500.6 613.8,482.7 614.6,462.7 615.4,494.6 616.2,533.6 617.0,492.6 617.7,510.6 618.5,516.6 619.3,498.6 620.1,462.7 620.9,466.7 621.7,449.7 622.5,472.7 623.3,450.7 624.1,434.8 624.9,454.7 625.3,446.8 626.1,420.8 626.9,434.8 627.7,442.8 628.5,468.7 629.3,434.8 630.1,426.8 630.9,440.8 631.7,428.8 632.5,418.8 633.2,442.8 634.0,450.7 634.8,502.6 635.4,518.6 636.2,474.7 637.0,504.6 637.8,466.7 638.6,500.6 639.4,461.7 640.2,494.6 641.0,474.7 641.8,500.6 642.6,515.6 643.4,496.6 644.2,508.6 645.0,494.6 645.8,500.6 646.6,492.6 647.4,482.7 648.2,494.6 649.0,527.6 649.8,498.6 650.6,514.6 651.4,534.6 652.0,558.5 652.8,514.6 653.6,526.6 654.4,508.6 655.2,526.6 656.0,554.5 656.6,574.5 657.4,554.5 658.2,560.5 659.0,530.6 659.8,514.6 660.6,502.6 661.4,462.7 662.2,454.7 662.8,445.8 663.6,470.7 664.4,458.7 665.2,494.6 666.0,508.6 666.6,524.6 667.4,508.6 668.2,494.6 669.0,466.7 669.8,482.7 670.6,510.6 671.2,517.6 672.0,488.7 672.8,492.6 673.6,508.6 674.4,478.7 675.2,452.7 676.0,462.7 676.8,438.8 677.5,426.8 678.3,408.8 679.1,436.8 679.7,418.8" fill="none" stroke="#1f77b4" stroke-width="1.35" stroke-linejoin="round" stroke-linecap="round"/>
<rect x="30.0" y="336.4" width="649.9" height="266.5" fill="none" stroke="#333333" stroke-width="0.85"/>
<line x1="52.5" y1="602.9" x2="52.5" y2="606.0" stroke="#333333" stroke-width="0.85"/>
<line x1="82.4" y1="602.9" x2="82.4" y2="604.9" stroke="#333333" stroke-width="0.85"/>
<line x1="112.2" y1="602.9" x2="112.2" y2="604.9" stroke="#333333" stroke-width="0.85"/>
<line x1="142.1" y1="602.9" x2="142.1" y2="604.9" stroke="#333333" stroke-width="0.85"/>
<line x1="172.0" y1="602.9" x2="172.0" y2="606.0" stroke="#333333" stroke-width="0.85"/>
<line x1="201.8" y1="602.9" x2="201.8" y2="604.9" stroke="#333333" stroke-width="0.85"/>
<line x1="231.7" y1="602.9" x2="231.7" y2="604.9" stroke="#333333" stroke-width="0.85"/>
<line x1="261.6" y1="602.9" x2="261.6" y2="604.9" stroke="#333333" stroke-width="0.85"/>
<line x1="291.4" y1="602.9" x2="291.4" y2="606.0" stroke="#333333" stroke-width="0.85"/>
<line x1="321.3" y1="602.9" x2="321.3" y2="604.9" stroke="#333333" stroke-width="0.85"/>
<line x1="351.1" y1="602.9" x2="351.1" y2="604.9" stroke="#333333" stroke-width="0.85"/>
<line x1="381.0" y1="602.9" x2="381.0" y2="604.9" stroke="#333333" stroke-width="0.85"/>
<line x1="410.9" y1="602.9" x2="410.9" y2="606.0" stroke="#333333" stroke-width="0.85"/>
<line x1="440.7" y1="602.9" x2="440.7" y2="604.9" stroke="#333333" stroke-width="0.85"/>
<line x1="470.6" y1="602.9" x2="470.6" y2="604.9" stroke="#333333" stroke-width="0.85"/>
<line x1="500.5" y1="602.9" x2="500.5" y2="604.9" stroke="#333333" stroke-width="0.85"/>
<line x1="530.3" y1="602.9" x2="530.3" y2="606.0" stroke="#333333" stroke-width="0.85"/>
<line x1="560.2" y1="602.9" x2="560.2" y2="604.9" stroke="#333333" stroke-width="0.85"/>
<line x1="590.1" y1="602.9" x2="590.1" y2="604.9" stroke="#333333" stroke-width="0.85"/>
<line x1="619.9" y1="602.9" x2="619.9" y2="604.9" stroke="#333333" stroke-width="0.85"/>
<line x1="649.8" y1="602.9" x2="649.8" y2="606.0" stroke="#333333" stroke-width="0.85"/>
<line x1="30.0" y1="602.9" x2="30.0" y2="604.9" stroke="#333333" stroke-width="0.85"/>
<line x1="679.9" y1="602.9" x2="679.9" y2="604.9" stroke="#333333" stroke-width="0.85"/>
<text x="52.5" y="615.5" font-size="9.37" text-anchor="middle" textLength="18.2" lengthAdjust="spacingAndGlyphs">2017</text>
<text x="172.0" y="615.5" font-size="9.37" text-anchor="middle" textLength="18.2" lengthAdjust="spacingAndGlyphs">2018</text>
<text x="291.4" y="615.5" font-size="9.37" text-anchor="middle" textLength="18.2" lengthAdjust="spacingAndGlyphs">2019</text>
<text x="410.9" y="615.5" font-size="9.37" text-anchor="middle" textLength="18.2" lengthAdjust="spacingAndGlyphs">2020</text>
<text x="530.3" y="615.5" font-size="9.37" text-anchor="middle" textLength="18.2" lengthAdjust="spacingAndGlyphs">2021</text>
<text x="649.8" y="615.5" font-size="9.37" text-anchor="middle" textLength="18.2" lengthAdjust="spacingAndGlyphs">2022</text>
<line x1="26.9" y1="355.9" x2="30.0" y2="355.9" stroke="#333333" stroke-width="0.85"/>
<text x="14.8" y="359.3" font-size="9.37" textLength="8.7" lengthAdjust="spacingAndGlyphs">90</text>
<line x1="26.9" y1="388.0" x2="30.0" y2="388.0" stroke="#333333" stroke-width="0.85"/>
<text x="14.8" y="391.4" font-size="9.37" textLength="8.7" lengthAdjust="spacingAndGlyphs">80</text>
<line x1="26.9" y1="420.2" x2="30.0" y2="420.2" stroke="#333333" stroke-width="0.85"/>
<text x="14.8" y="423.6" font-size="9.37" textLength="8.7" lengthAdjust="spacingAndGlyphs">70</text>
<line x1="26.9" y1="452.4" x2="30.0" y2="452.4" stroke="#333333" stroke-width="0.85"/>
<text x="14.8" y="455.8" font-size="9.37" textLength="8.7" lengthAdjust="spacingAndGlyphs">60</text>
<line x1="26.9" y1="484.5" x2="30.0" y2="484.5" stroke="#333333" stroke-width="0.85"/>
<text x="14.8" y="487.9" font-size="9.37" textLength="8.7" lengthAdjust="spacingAndGlyphs">50</text>
<line x1="26.9" y1="516.7" x2="30.0" y2="516.7" stroke="#333333" stroke-width="0.85"/>
<text x="14.8" y="520.1" font-size="9.37" textLength="8.7" lengthAdjust="spacingAndGlyphs">40</text>
<line x1="26.9" y1="548.8" x2="30.0" y2="548.8" stroke="#333333" stroke-width="0.85"/>
<text x="14.8" y="552.2" font-size="9.37" textLength="8.7" lengthAdjust="spacingAndGlyphs">30</text>
<line x1="26.9" y1="581.0" x2="30.0" y2="581.0" stroke="#333333" stroke-width="0.85"/>
<text x="14.8" y="584.4" font-size="9.37" textLength="8.7" lengthAdjust="spacingAndGlyphs">20</text>
<text x="354.1" y="626.4" font-size="9.37" text-anchor="middle" textLength="16.0" lengthAdjust="spacingAndGlyphs">time</text>
<rect x="507.8" y="339.8" width="168.8" height="15.0" rx="1.6" fill="#fff" fill-opacity="0.8" stroke="#cfcfcf" stroke-width="0.8"/>
<line x1="509.9" y1="346.7" x2="526.5" y2="346.7" stroke="#1f77b4" stroke-width="1.35"/>
<text x="532.6" y="349.8" font-size="9.37" textLength="139.0" lengthAdjust="spacingAndGlyphs">RSI via Exponential Moving Average</text>
<text class="cap" stroke="#111" stroke-width="0.22" x="308.2" y="647.1" font-size="14.3" textLength="124.9" lengthAdjust="spacingAndGlyphs">(ii) RSI of Ethereum</text>
<polyline points="32.1,858.7 32.8,815.5 33.4,884.2 34.1,774.4 34.8,867.6 35.4,895.3 36.1,860.9 36.8,834.3 37.4,849.8 38.1,833.2 38.7,848.7 39.4,833.2 40.1,847.6 40.7,834.3 41.4,869.8 42.1,836.5 42.7,852.0 43.4,843.2 44.1,847.6 44.7,856.5 45.4,833.2 46.1,863.1 46.7,849.8 47.4,790.0 48.1,845.4 48.7,852.0 49.4,847.6 50.1,853.1 50.7,847.6 51.4,827.6 52.1,852.0 52.7,843.2 53.4,854.3 54.0,838.7 54.7,834.3 55.4,860.9 56.0,836.5 56.5,808.8 57.2,860.9 57.8,843.2 58.5,878.6 59.1,852.0 59.8,868.7 60.5,852.0 61.1,877.5 61.8,856.5 62.5,730.1 63.1,729.0 63.8,856.5 64.5,854.3 65.1,853.1 65.8,843.2 66.5,856.5 67.1,852.0 67.8,856.5 68.5,849.8 69.1,857.6 69.8,838.7 70.5,852.0 71.1,858.7 71.8,845.4 72.5,858.7 73.1,852.0 73.8,860.9 74.4,869.8 75.1,856.5 75.8,863.1 76.4,847.6 77.1,825.4 77.8,858.7 78.4,785.5 79.1,829.9 79.8,845.4 80.4,812.1 81.1,823.2 81.8,783.3 82.4,757.8 83.1,821.0 83.8,765.6 84.4,783.3 85.1,721.2 85.8,783.3 86.4,781.1 87.1,796.6 87.7,821.0 88.4,805.5 89.1,794.4 89.7,807.7 90.4,796.6 91.1,814.3 91.7,801.0 92.4,783.3 93.1,774.4 93.7,732.3 94.4,796.6 95.1,765.6 95.7,772.2 96.4,711.2 97.1,761.1 97.7,770.0 98.4,763.3 99.1,821.0 99.7,792.2 100.4,774.4 101.1,712.3 101.9,706.8 102.6,747.8 103.3,814.3 103.9,821.0 104.6,801.0 105.3,816.6 105.9,765.6 106.6,821.0 107.3,798.8 107.9,805.5 108.6,832.1 109.3,825.4 109.9,834.3 110.6,829.9 111.3,840.9 111.9,845.4 112.6,863.1 113.2,880.9 113.9,865.3 114.6,891.9 115.2,867.6 115.9,850.9 116.6,867.6 117.2,889.7 117.9,907.5 118.6,911.9 119.2,925.2 119.9,935.2 120.6,889.7 121.2,867.6 121.9,852.0 122.6,874.2 123.2,863.1 123.9,882.0 124.6,867.6 125.2,852.0 125.9,832.1 126.6,845.4 127.2,838.7 127.9,856.5 128.5,874.2 129.2,867.6 129.9,880.9 130.5,882.0 131.2,867.6 131.9,852.0 132.5,843.2 133.2,852.0 133.9,781.1 134.5,747.8 135.2,748.9 135.9,829.9 136.5,840.9 137.2,867.6 137.9,878.6 138.5,900.8 139.2,931.9 139.9,936.3 140.5,923.0 141.2,934.1 141.9,911.9 142.5,878.6 143.2,863.1 143.8,872.0 144.5,856.5 145.0,856.5 145.7,876.4 146.3,872.0 147.0,882.0 147.7,867.6 148.3,860.9 149.0,834.3 149.7,856.5 150.3,876.4 151.0,845.4 151.7,867.6 152.3,845.4 153.0,863.1 153.6,816.6 154.3,836.5 155.0,818.8 155.6,834.3 156.3,814.3 157.0,772.2 157.6,838.7 158.3,863.1 159.0,814.3 159.6,809.9 160.3,801.0 161.0,778.9 161.6,741.2 162.3,733.4 163.0,736.7 163.6,792.2 164.3,763.3 165.0,794.4 165.6,754.5 166.3,752.3 167.0,783.3 167.6,752.3 168.3,727.9 168.9,706.8 169.6,695.7 170.3,693.5 170.9,788.8 171.6,747.8 172.3,745.6 172.9,772.2 173.6,812.1 174.3,792.2 174.9,763.3 175.6,752.3 176.3,729.0 176.9,805.5 177.6,827.6 178.3,812.1 178.9,843.2 179.6,880.9 180.3,858.7 180.9,876.4 181.6,860.9 182.3,865.3 182.9,860.9 183.6,880.9 184.2,898.6 184.9,889.7 185.6,908.6 186.2,885.3 186.9,874.2 187.6,873.1 188.2,840.9 188.9,821.0 189.6,838.7 190.2,821.0 190.9,849.8 191.6,838.7 192.2,852.0 192.9,849.8 193.6,872.0 194.2,874.2 194.9,889.7 195.6,905.3 196.2,896.4 196.9,907.5 197.5,911.9 198.2,923.0 198.9,909.7 199.5,889.7 200.2,900.8 200.9,908.6 201.5,923.0 202.2,926.3 202.9,930.7 203.5,911.9 204.2,894.2 204.9,903.0 205.5,894.2 206.2,867.6 206.9,812.1 207.5,770.0 208.2,768.9 208.9,754.5 209.5,734.5 210.2,765.6 210.9,761.1 211.5,814.3 212.2,801.0 212.8,818.8 213.5,809.9 214.2,829.9 214.8,849.8 215.5,832.1 216.2,858.7 216.8,880.9 217.5,868.7 218.2,885.3 218.8,869.8 219.5,889.7 220.2,872.0 220.8,918.6 221.5,907.5 222.2,925.2 222.8,898.6 223.5,903.0 224.2,878.6 224.8,876.4 225.5,859.8 226.2,880.9 226.8,908.6 227.5,880.9 228.1,907.5 228.8,889.7 229.5,883.1 230.1,907.5 230.8,909.7 231.5,923.0 232.1,931.9 232.8,937.4 233.5,911.9 234.1,876.4 234.8,874.2 235.5,887.5 236.1,874.2 236.8,906.4 237.5,880.9 238.1,885.3 238.8,823.2 239.5,758.9 239.9,756.7 240.3,816.6 241.0,798.8 241.7,818.8 242.3,827.6 243.0,849.8 243.7,860.9 244.3,863.1 245.0,872.0 245.7,900.8 246.3,880.9 247.0,903.0 247.7,883.1 248.3,905.3 249.0,869.8 249.7,874.2 250.3,880.9 251.0,874.2 251.7,876.4 252.3,867.6 253.0,801.0 253.4,705.7 254.1,705.7 254.5,787.7 255.2,765.6 255.9,778.9 256.5,747.8 257.2,774.4 257.9,776.6 258.5,794.4 259.2,783.3 259.9,828.8 260.5,818.8 261.2,825.4 261.9,816.6 262.5,823.2 263.2,815.5 263.8,816.6 264.5,852.0 265.0,816.6 265.7,852.0 266.3,840.9 267.0,900.8 267.7,874.2 268.3,894.2 269.0,914.1 269.7,898.6 270.3,914.1 271.0,934.1 271.7,918.6 272.3,887.5 273.0,903.0 273.6,889.7 274.3,907.5 275.0,898.6 275.6,925.2 276.3,931.9 277.0,918.6 277.6,936.3 278.3,918.6 279.0,940.7 279.6,936.3 280.3,945.2 281.0,938.5 281.6,948.5 282.3,942.9 283.0,923.0 283.6,925.2 284.3,914.1 285.0,905.3 285.6,918.6 286.3,909.7 287.0,920.8 287.6,914.1 288.3,814.3 288.9,809.9 289.6,797.7 290.3,840.9 290.9,826.5 291.6,854.3 292.3,845.4 292.9,858.7 293.6,844.3 294.3,867.6 294.9,860.9 295.6,880.9 296.3,885.3 296.9,903.0 297.6,887.5 298.3,900.8 298.9,887.5 299.6,874.2 300.3,900.8 300.9,874.2 301.6,889.7 302.3,916.3 302.9,900.8 303.6,918.6 304.2,900.8 304.9,925.2 305.6,874.2 306.2,887.5 306.9,872.0 307.6,867.6 308.2,856.5 308.9,823.2 309.6,799.9 310.2,812.1 310.9,803.3 311.6,847.6 312.2,832.1 312.9,852.0 313.6,836.5 314.2,854.3 314.9,825.4 315.6,852.0 316.2,827.6 316.9,818.8 317.5,798.8 318.2,821.0 318.9,809.9 319.5,845.4 320.2,827.6 320.9,823.2 321.5,812.1 322.2,829.9 322.9,739.0 323.5,696.8 324.2,696.8 324.9,741.2 325.3,832.1 326.0,798.8 326.6,827.6 327.3,818.8 328.0,832.1 328.6,816.6 329.3,834.3 330.0,845.4 330.6,880.9 331.3,867.6 332.0,882.0 332.6,863.1 333.3,845.4 334.0,876.4 334.6,856.5 335.3,845.4 336.0,827.6 336.6,773.3 337.3,827.6 337.9,805.5 338.6,818.8 339.3,809.9 339.9,832.1 340.6,821.0 341.3,805.5 341.9,783.3 342.6,792.2 343.3,848.7 343.9,827.6 344.6,845.4 345.3,832.1 345.9,844.3 346.6,832.1 347.3,843.2 347.9,832.1 348.6,840.9 349.3,818.8 349.9,796.6 350.6,821.0 351.3,794.4 351.9,852.0 352.6,794.4 353.2,787.7 353.9,763.3 354.6,823.2 355.2,809.9 355.9,856.5 356.6,854.3 357.2,891.9 357.9,860.9 358.6,853.1 359.2,876.4 359.9,867.6 360.6,886.4 361.2,876.4 361.9,852.0 362.6,867.6 363.2,849.8 363.9,835.4 364.6,863.1 365.2,852.0 365.9,867.6 366.6,863.1 367.2,878.6 367.9,889.7 368.5,906.4 369.2,863.1 369.9,891.9 370.5,880.9 371.2,903.0 371.9,916.3 372.5,889.7 373.2,864.2 373.9,900.8 374.5,880.9 375.2,905.3 375.9,880.9 376.5,900.8 377.2,867.6 377.9,860.9 378.5,836.5 379.2,805.5 379.9,836.5 380.5,894.2 381.2,903.0 381.9,910.8 382.5,849.8 383.2,883.1 383.8,845.4 384.5,867.6 385.0,867.6 385.7,843.2 386.3,872.0 387.0,818.8 387.7,776.6 388.3,774.4 389.0,792.2 389.7,852.0 390.3,823.2 391.0,840.9 391.7,825.4 392.3,856.5 393.0,840.9 393.6,849.8 394.3,829.9 395.0,838.7 395.6,813.2 396.3,832.1 397.0,834.3 397.6,836.5 398.3,852.0 399.0,872.0 399.6,889.7 400.3,907.5 401.0,920.8 401.6,891.9 402.3,870.9 403.0,911.9 403.6,885.3 404.3,900.8 405.0,883.1 405.6,898.6 406.3,885.3 407.0,898.6 407.6,916.3 408.3,889.7 408.9,909.7 409.6,874.2 410.3,891.9 410.9,867.6 411.6,887.5 412.3,865.3 412.9,887.5 413.6,863.1 414.3,836.5 414.9,832.1 415.6,801.0 416.3,809.9 416.9,787.7 417.6,778.9 418.3,774.4 418.9,821.0 419.6,812.1 420.3,840.9 420.9,850.9 421.6,821.0 422.3,825.4 422.9,809.9 423.6,787.7 424.2,758.9 424.9,716.8 425.6,715.7 426.2,790.0 426.9,776.6 427.6,825.4 428.2,845.4 428.9,858.7 429.6,849.8 430.2,887.5 430.9,858.7 431.6,885.3 432.2,894.2 432.9,849.8 433.6,867.6 434.2,849.8 434.9,889.7 435.6,937.4 436.2,937.4 436.9,880.9 437.5,907.5 438.2,880.9 438.9,876.4 439.5,867.6 440.2,849.8 440.9,874.2 441.5,883.1 442.2,860.9 442.9,856.5 443.5,845.4 444.2,852.0 444.9,838.7 445.5,848.7 446.2,836.5 446.9,845.4 447.5,825.4 448.2,843.2 448.9,832.1 449.5,805.5 450.2,766.7 450.9,783.3 451.5,767.8 452.2,792.2 452.8,768.9 453.5,798.8 454.2,774.4 454.8,827.6 455.5,796.6 456.2,827.6 456.8,809.9 457.5,832.1 458.2,814.3 458.8,827.6 459.5,809.9 460.2,834.3 460.8,821.0 461.5,801.0 462.2,840.9 462.8,809.9 463.5,829.9 464.2,843.2 464.8,856.5 465.5,852.0 466.2,863.1 466.8,858.7 467.5,867.6 468.1,856.5 468.8,853.1 469.5,869.8 470.1,876.4 470.8,898.6 471.5,876.4 472.1,889.7 472.8,874.2 473.5,889.7 474.1,696.8 474.8,796.6 475.5,809.9 476.1,845.4 476.8,821.0 477.5,840.9 478.1,827.6 478.8,836.5 479.5,832.1 480.1,843.2 480.8,832.1 481.5,840.9 482.1,801.0 482.8,836.5 483.4,818.8 484.1,832.1 484.8,823.2 485.4,836.5 486.1,821.0 486.8,819.9 487.4,840.9 488.1,849.8 488.8,849.8 489.4,860.9 490.1,878.6 490.8,860.9 491.4,856.5 492.1,894.2 492.8,918.6 493.4,926.3 494.1,903.0 494.8,914.1 495.4,903.0 496.1,885.3 496.8,872.0 497.4,891.9 498.1,920.8 498.7,918.6 499.4,894.2 500.1,874.2 500.7,889.7 501.4,872.0 502.1,889.7 502.7,867.6 503.4,883.1 504.1,867.6 504.7,852.0 505.0,876.4 505.7,852.0 506.3,867.6 507.0,845.4 507.7,874.2 508.3,849.8 509.0,860.9 509.7,845.4 510.3,852.0 511.0,823.2 511.7,867.6 512.3,869.8 513.0,899.7 513.6,878.6 514.3,805.5 515.0,829.9 515.6,809.9 516.3,843.2 517.0,784.4 517.6,809.9 518.3,785.5 519.0,750.0 519.6,801.0 520.1,736.7 520.7,836.5 521.4,818.8 522.1,838.7 522.7,823.2 523.4,836.5 524.1,833.2 524.7,852.0 525.4,862.0 526.1,849.8 526.7,849.8 527.4,812.1 528.1,787.7 528.7,744.5 529.4,836.5 530.1,798.8 530.7,805.5 531.4,812.1 532.1,792.2 532.7,707.9 533.4,732.3 534.0,732.3 534.7,754.5 535.4,752.3 536.0,825.4 536.7,801.0 537.4,809.9 538.0,807.7 538.7,845.4 539.4,827.6 540.0,845.4 540.7,869.8 541.4,805.5 541.8,694.6 542.5,801.0 543.1,765.6 543.8,763.3 544.5,747.8 545.1,774.4 545.8,778.9 546.5,794.4 547.1,818.8 547.8,821.0 548.5,840.9 549.1,827.6 549.8,852.0 550.5,847.6 551.1,852.0 551.8,845.4 552.5,849.8 553.1,823.2 553.8,801.0 554.4,818.8 555.1,809.9 555.8,834.3 556.4,827.6 557.1,834.3 557.8,827.6 558.4,847.6 559.1,866.4 559.8,852.0 560.4,852.0 561.1,843.2 561.8,802.1 562.4,836.5 563.1,801.0 563.8,827.6 564.4,778.9 565.1,792.2 565.8,756.7 566.4,684.6 567.1,756.7 567.7,734.5 568.4,818.8 569.1,821.0 569.7,812.1 570.4,805.5 571.1,781.1 571.7,783.3 572.4,739.0 573.1,756.7 573.7,827.6 574.4,832.1 575.1,815.5 575.7,845.4 576.4,827.6 577.1,868.7 577.7,854.3 578.4,872.0 579.1,856.5 579.7,872.0 580.4,869.8 581.1,856.5 581.7,829.9 582.4,852.0 583.0,849.8 583.7,865.3 584.4,860.9 585.0,867.6 585.7,860.9 586.4,874.2 587.0,876.4 587.7,884.2 588.4,927.4 589.0,869.8 589.7,867.6 590.4,863.1 591.0,865.3 591.7,872.0 592.4,870.9 593.0,880.9 593.7,882.0 594.4,896.4 595.0,885.3 595.7,907.5 596.4,917.4 597.0,894.2 597.7,907.5 598.3,876.4 599.0,867.6 599.7,856.5 600.3,856.5 601.0,849.8 601.7,852.0 602.3,872.0 603.0,852.0 603.4,772.2 604.1,792.2 604.8,774.4 605.4,770.0 606.1,740.1 606.8,798.8 607.4,781.1 608.1,796.6 608.8,794.4 609.4,854.3 610.1,829.9 610.8,852.0 611.4,827.6 612.1,823.2 612.8,814.3 613.2,808.8 613.9,874.2 614.5,888.6 615.2,872.0 615.9,880.9 616.5,870.9 617.2,891.9 617.9,915.2 618.5,876.4 619.2,889.7 619.9,906.4 620.5,898.6 621.2,856.5 621.9,856.5 622.5,836.5 623.2,812.1 623.8,858.7 624.5,825.4 625.1,858.7 625.8,827.6 626.4,843.2 627.1,805.5 627.7,840.9 628.4,805.5 629.1,786.6 629.7,836.5 630.4,792.2 631.1,832.1 631.7,856.5 632.4,823.2 633.1,840.9 633.7,816.6 634.4,840.9 635.1,852.0 635.7,843.2 636.4,876.4 637.1,896.4 637.7,876.4 638.4,889.7 639.1,877.5 639.7,903.0 640.4,878.6 641.1,907.5 641.7,907.5 642.4,928.5 643.0,911.9 643.7,925.2 644.4,907.5 645.0,918.6 645.7,856.5 646.4,883.1 647.0,880.9 647.7,867.6 648.4,845.4 649.0,836.5 649.7,863.1 650.4,880.9 651.0,867.6 651.7,863.1 652.4,876.4 653.0,889.7 653.7,900.8 654.4,920.8 655.0,889.7 655.7,845.4 656.4,814.3 657.0,845.4 657.7,878.6 658.3,910.8 659.0,889.7 659.7,880.9 660.3,887.5 661.0,880.9 661.7,888.6 662.3,874.2 663.0,856.5 663.7,809.9 664.3,845.4 665.0,863.1 665.7,845.4 666.3,863.1 667.0,843.2 667.7,867.6 668.3,896.4 669.0,899.7 669.7,872.0 670.3,896.4 671.0,860.9 671.7,876.4 672.3,898.6 673.0,880.9 673.6,891.9 674.3,880.9 675.0,905.3 675.6,876.4 676.3,860.9 677.0,845.4 677.6,863.1 678.3,801.0 679.0,825.4 679.6,790.0 680.3,821.0 681.0,796.6 681.6,818.8" fill="none" stroke="#1f77b4" stroke-width="1.35" stroke-linejoin="round" stroke-linecap="round"/>
<rect x="28.2" y="672.5" width="653.7" height="289.4" fill="none" stroke="#333333" stroke-width="0.85"/>
<line x1="55.6" y1="961.9" x2="55.6" y2="965.0" stroke="#333333" stroke-width="0.85"/>
<line x1="85.4" y1="961.9" x2="85.4" y2="963.9" stroke="#333333" stroke-width="0.85"/>
<line x1="115.3" y1="961.9" x2="115.3" y2="963.9" stroke="#333333" stroke-width="0.85"/>
<line x1="145.1" y1="961.9" x2="145.1" y2="963.9" stroke="#333333" stroke-width="0.85"/>
<line x1="174.9" y1="961.9" x2="174.9" y2="965.0" stroke="#333333" stroke-width="0.85"/>
<line x1="204.8" y1="961.9" x2="204.8" y2="963.9" stroke="#333333" stroke-width="0.85"/>
<line x1="234.6" y1="961.9" x2="234.6" y2="963.9" stroke="#333333" stroke-width="0.85"/>
<line x1="264.4" y1="961.9" x2="264.4" y2="963.9" stroke="#333333" stroke-width="0.85"/>
<line x1="294.3" y1="961.9" x2="294.3" y2="965.0" stroke="#333333" stroke-width="0.85"/>
<line x1="324.1" y1="961.9" x2="324.1" y2="963.9" stroke="#333333" stroke-width="0.85"/>
<line x1="354.0" y1="961.9" x2="354.0" y2="963.9" stroke="#333333" stroke-width="0.85"/>
<line x1="383.8" y1="961.9" x2="383.8" y2="963.9" stroke="#333333" stroke-width="0.85"/>
<line x1="413.6" y1="961.9" x2="413.6" y2="965.0" stroke="#333333" stroke-width="0.85"/>
<line x1="443.5" y1="961.9" x2="443.5" y2="963.9" stroke="#333333" stroke-width="0.85"/>
<line x1="473.3" y1="961.9" x2="473.3" y2="963.9" stroke="#333333" stroke-width="0.85"/>
<line x1="503.1" y1="961.9" x2="503.1" y2="963.9" stroke="#333333" stroke-width="0.85"/>
<line x1="533.0" y1="961.9" x2="533.0" y2="965.0" stroke="#333333" stroke-width="0.85"/>
<line x1="562.8" y1="961.9" x2="562.8" y2="963.9" stroke="#333333" stroke-width="0.85"/>
<line x1="592.6" y1="961.9" x2="592.6" y2="963.9" stroke="#333333" stroke-width="0.85"/>
<line x1="622.5" y1="961.9" x2="622.5" y2="963.9" stroke="#333333" stroke-width="0.85"/>
<line x1="652.3" y1="961.9" x2="652.3" y2="965.0" stroke="#333333" stroke-width="0.85"/>
<line x1="28.2" y1="961.9" x2="28.2" y2="963.9" stroke="#333333" stroke-width="0.85"/>
<line x1="681.9" y1="961.9" x2="681.9" y2="963.9" stroke="#333333" stroke-width="0.85"/>
<text x="55.6" y="976.0" font-size="10.00" text-anchor="middle" textLength="18.3" lengthAdjust="spacingAndGlyphs">2017</text>
<text x="174.9" y="976.0" font-size="10.00" text-anchor="middle" textLength="18.3" lengthAdjust="spacingAndGlyphs">2018</text>
<text x="294.3" y="976.0" font-size="10.00" text-anchor="middle" textLength="18.3" lengthAdjust="spacingAndGlyphs">2019</text>
<text x="413.6" y="976.0" font-size="10.00" text-anchor="middle" textLength="18.3" lengthAdjust="spacingAndGlyphs">2020</text>
<text x="533.0" y="976.0" font-size="10.00" text-anchor="middle" textLength="18.3" lengthAdjust="spacingAndGlyphs">2021</text>
<text x="652.3" y="976.0" font-size="10.00" text-anchor="middle" textLength="18.3" lengthAdjust="spacingAndGlyphs">2022</text>
<line x1="25.1" y1="672.5" x2="28.2" y2="672.5" stroke="#333333" stroke-width="0.85"/>
<text x="8.6" y="676.1" font-size="10.00" textLength="13.1" lengthAdjust="spacingAndGlyphs">100</text>
<line x1="25.1" y1="707.2" x2="28.2" y2="707.2" stroke="#333333" stroke-width="0.85"/>
<text x="13.0" y="710.8" font-size="10.00" textLength="8.7" lengthAdjust="spacingAndGlyphs">90</text>
<line x1="25.1" y1="742.0" x2="28.2" y2="742.0" stroke="#333333" stroke-width="0.85"/>
<text x="13.0" y="745.6" font-size="10.00" textLength="8.7" lengthAdjust="spacingAndGlyphs">80</text>
<line x1="25.1" y1="776.8" x2="28.2" y2="776.8" stroke="#333333" stroke-width="0.85"/>
<text x="13.0" y="780.4" font-size="10.00" textLength="8.7" lengthAdjust="spacingAndGlyphs">70</text>
<line x1="25.1" y1="811.5" x2="28.2" y2="811.5" stroke="#333333" stroke-width="0.85"/>
<text x="13.0" y="815.1" font-size="10.00" textLength="8.7" lengthAdjust="spacingAndGlyphs">60</text>
<line x1="25.1" y1="846.3" x2="28.2" y2="846.3" stroke="#333333" stroke-width="0.85"/>
<text x="13.0" y="849.9" font-size="10.00" textLength="8.7" lengthAdjust="spacingAndGlyphs">50</text>
<line x1="25.1" y1="881.1" x2="28.2" y2="881.1" stroke="#333333" stroke-width="0.85"/>
<text x="13.0" y="884.7" font-size="10.00" textLength="8.7" lengthAdjust="spacingAndGlyphs">40</text>
<line x1="25.1" y1="915.9" x2="28.2" y2="915.9" stroke="#333333" stroke-width="0.85"/>
<text x="13.0" y="919.5" font-size="10.00" textLength="8.7" lengthAdjust="spacingAndGlyphs">30</text>
<line x1="25.1" y1="950.7" x2="28.2" y2="950.7" stroke="#333333" stroke-width="0.85"/>
<text x="13.0" y="954.3" font-size="10.00" textLength="8.7" lengthAdjust="spacingAndGlyphs">20</text>
<text x="354.2" y="987.9" font-size="10.00" text-anchor="middle" textLength="16.1" lengthAdjust="spacingAndGlyphs">time</text>
<rect x="32.1" y="676.7" width="169.9" height="15.7" rx="1.6" fill="#fff" fill-opacity="0.8" stroke="#cfcfcf" stroke-width="0.8"/>
<line x1="34.3" y1="683.7" x2="51.0" y2="683.7" stroke="#1f77b4" stroke-width="1.35"/>
<text x="56.9" y="687.4" font-size="10.00" textLength="139.8" lengthAdjust="spacingAndGlyphs">RSI via Exponential Moving Average</text>
<text class="cap" stroke="#111" stroke-width="0.22" x="285.8" y="1007.9" font-size="14.3" textLength="125.7" lengthAdjust="spacingAndGlyphs">(iii) RSI of Dogecoin</text>
<polyline points="29.3,1161.1 30.0,1143.8 30.6,1107.2 31.4,1104.2 31.8,1147.9 32.4,1119.4 33.0,1198.7 33.6,1188.5 34.2,1199.7 34.8,1192.6 35.4,1208.9 36.1,1217.0 36.7,1184.5 37.3,1160.1 37.9,1180.4 38.5,1164.1 39.1,1180.4 39.7,1192.6 40.3,1170.2 40.9,1196.7 41.5,1188.5 42.2,1170.2 42.8,1270.9 43.4,1269.8 44.0,1213.9 44.6,1223.1 45.2,1215.0 45.8,1225.1 46.4,1217.0 47.0,1200.7 47.6,1211.9 48.3,1200.7 48.9,1081.8 49.5,1129.6 50.1,1105.2 50.7,1127.6 51.3,1105.2 51.9,1135.7 52.5,1113.3 53.1,1143.8 53.7,1180.4 54.3,1219.0 55.0,1184.5 55.6,1149.9 56.2,1200.7 56.8,1194.6 57.4,1202.8 58.0,1192.6 58.6,1202.8 59.2,1188.5 59.8,1204.8 60.4,1215.0 61.1,1186.5 61.7,1190.6 62.3,1166.2 62.9,1166.2 63.5,1178.4 64.1,1176.3 64.7,1180.4 65.3,1223.1 65.9,1196.7 66.5,1208.9 67.2,1204.8 67.8,1187.5 68.4,1206.8 69.0,1194.6 69.6,1190.6 70.2,1170.2 70.8,1192.6 71.4,1180.4 72.0,1140.8 72.6,1156.0 73.3,1141.8 73.9,1198.7 74.5,1200.7 75.1,1121.5 75.7,1152.0 76.3,1137.7 76.9,1160.1 77.5,1184.5 78.1,1168.2 78.7,1186.5 79.3,1162.1 80.0,1172.3 80.6,1054.4 81.2,1080.8 81.8,1056.4 82.4,1080.8 83.0,1043.8 83.6,1117.4 84.2,1145.9 84.8,1119.4 85.4,1123.5 86.1,1139.8 86.7,1125.5 87.3,1158.0 87.9,1127.6 88.5,1103.2 89.1,1103.2 89.7,1119.4 90.3,1111.3 90.9,1127.6 91.5,1111.3 92.2,1066.6 92.8,1064.6 93.4,1052.4 94.0,1066.6 94.6,1082.8 95.2,1129.6 95.8,1123.5 96.4,1174.3 97.0,1141.8 97.6,1152.0 98.3,1172.3 98.9,1119.4 99.5,1172.3 100.1,1192.6 100.7,1178.4 101.3,1184.5 101.9,1164.1 102.5,1168.2 103.1,1152.0 103.7,1172.3 104.3,1162.1 105.0,1139.8 105.6,1174.3 106.2,1154.0 106.8,1107.2 107.4,1111.3 108.0,1129.6 108.6,1123.5 109.2,1147.9 109.8,1172.3 110.4,1156.0 111.1,1178.4 111.7,1156.0 112.3,1143.8 112.9,1115.4 113.5,1166.2 114.1,1143.8 114.7,1184.5 115.3,1166.2 115.9,1202.8 116.5,1178.4 117.2,1192.6 117.8,1180.4 118.4,1166.2 119.0,1178.4 119.6,1182.4 120.2,1198.7 120.8,1190.6 121.4,1178.4 122.0,1184.5 122.6,1156.0 123.3,1160.1 123.9,1140.8 124.5,1162.1 125.1,1162.1 125.7,1195.7 126.3,1176.3 126.9,1164.1 127.5,1172.3 128.1,1152.0 128.7,1129.6 129.3,1154.0 130.0,1109.3 130.6,1101.1 131.4,1062.5 132.0,1103.2 132.6,1152.0 133.2,1127.6 133.8,1156.0 134.4,1174.3 135.0,1172.3 135.7,1229.2 136.3,1212.9 136.9,1194.6 137.5,1217.0 138.1,1206.8 138.7,1212.9 139.3,1178.4 139.9,1210.9 140.0,1210.9 140.6,1179.4 141.2,1192.6 141.8,1186.5 142.4,1198.7 143.0,1190.6 143.7,1203.8 144.3,1192.6 144.9,1156.0 145.5,1153.0 146.1,1132.6 146.7,1168.2 147.3,1162.1 147.9,1170.2 148.5,1168.2 149.1,1196.7 149.8,1186.5 150.4,1198.7 151.0,1181.4 151.6,1194.6 152.2,1206.8 152.8,1182.4 153.4,1192.6 154.0,1180.4 154.6,1132.6 155.2,1176.3 155.9,1152.0 156.5,1139.8 157.1,1125.5 157.7,1145.9 158.3,1127.6 158.9,1139.8 159.5,1115.4 160.1,1092.0 160.7,1093.0 161.3,1136.7 162.0,1115.4 162.6,1101.1 163.2,1119.4 163.8,1137.7 164.4,1070.7 165.0,1068.6 165.6,1044.2 166.2,1095.0 166.8,1076.7 167.4,1077.8 168.0,1097.1 168.7,1123.5 169.3,1158.0 169.9,1147.9 170.5,1156.0 171.1,1198.7 171.7,1172.3 172.3,1180.4 172.9,1153.0 173.5,1184.5 174.1,1168.2 174.8,1190.6 175.4,1170.2 176.0,1196.7 176.6,1221.1 177.2,1196.7 177.8,1198.7 178.4,1212.9 179.0,1219.0 179.6,1208.9 180.2,1219.0 180.9,1196.7 181.5,1233.3 182.1,1245.4 182.7,1208.9 183.3,1233.3 183.9,1219.0 184.5,1192.6 185.1,1204.8 185.7,1190.6 186.3,1152.0 187.0,1139.8 187.6,1136.7 188.2,1181.4 188.8,1152.0 189.4,1164.1 190.0,1160.1 190.6,1180.4 191.2,1168.2 191.8,1166.2 192.4,1178.4 193.0,1213.9 193.7,1192.6 194.3,1210.9 194.9,1204.8 195.5,1222.1 196.1,1212.9 196.7,1229.2 197.3,1204.8 197.9,1197.7 198.5,1212.9 199.1,1204.8 199.8,1239.3 200.4,1257.6 201.0,1245.4 201.6,1209.9 202.2,1235.3 202.8,1225.1 203.4,1231.2 204.0,1206.8 204.6,1192.6 205.2,1194.6 205.9,1184.5 206.5,1172.3 207.1,1140.8 207.7,1156.0 208.3,1135.7 208.9,1134.7 209.5,1176.3 210.1,1164.1 210.7,1175.3 211.3,1152.0 212.0,1128.6 212.6,1128.6 213.2,1172.3 213.8,1192.6 214.4,1210.9 215.0,1188.5 215.6,1212.9 216.2,1206.8 216.8,1195.7 217.4,1233.3 218.0,1212.9 218.7,1239.3 219.3,1229.2 219.9,1240.4 220.5,1217.0 221.1,1196.7 221.7,1204.8 222.3,1199.7 222.9,1210.9 223.5,1235.3 224.1,1260.7 224.8,1233.3 225.4,1243.4 226.0,1229.2 226.6,1226.1 227.2,1261.7 227.8,1245.4 228.4,1263.7 229.0,1266.8 229.6,1233.3 230.2,1253.6 230.9,1208.9 231.5,1213.9 232.1,1206.8 232.7,1208.9 233.3,1234.3 233.9,1225.1 234.5,1212.9 235.1,1196.7 235.7,1162.1 236.3,1196.7 237.0,1188.5 237.6,1196.7 238.2,1164.1 238.8,1198.7 239.4,1184.5 240.0,1192.6 240.6,1219.0 241.2,1217.0 241.8,1230.2 242.4,1233.3 243.0,1253.6 243.7,1251.5 244.3,1263.7 244.9,1253.6 245.5,1265.8 246.1,1215.0 246.7,1241.4 247.3,1223.1 247.9,1225.1 248.5,1215.0 249.1,1213.9 249.8,1180.4 250.4,1202.8 251.0,1162.1 251.6,1188.5 252.2,1157.0 252.8,1198.7 253.4,1212.9 254.0,1225.1 254.6,1228.2 255.2,1200.7 255.9,1194.6 256.5,1219.0 257.1,1190.6 257.7,1162.1 258.3,1186.5 258.9,1155.0 259.5,1172.3 260.0,1154.0 260.6,1160.1 261.2,1172.3 261.8,1194.6 262.4,1180.4 263.0,1177.4 263.7,1190.6 264.3,1234.3 264.9,1196.7 265.5,1221.1 266.1,1202.8 266.7,1212.9 267.3,1204.8 267.9,1212.9 268.5,1210.9 269.1,1213.9 269.8,1241.4 270.4,1237.3 271.0,1212.9 271.6,1202.8 272.2,1166.2 272.8,1152.0 273.4,1192.6 274.0,1198.7 274.6,1212.9 275.2,1249.5 275.9,1259.7 276.5,1255.6 277.1,1290.2 277.7,1269.8 278.3,1282.0 278.9,1261.7 279.5,1267.8 280.1,1221.1 280.7,1213.9 281.3,1233.3 282.0,1229.2 282.6,1245.4 283.2,1256.6 283.8,1245.4 284.4,1253.6 285.0,1243.4 285.6,1206.8 286.2,1178.4 286.8,1162.1 287.4,1186.5 288.0,1159.1 288.7,1178.4 289.3,1201.7 289.9,1168.2 290.5,1186.5 291.1,1160.1 291.7,1180.4 292.3,1133.7 292.9,1135.7 293.5,1168.2 294.1,1192.6 294.8,1201.7 295.4,1186.5 296.0,1194.6 296.6,1186.5 297.2,1195.7 297.8,1184.5 298.4,1190.6 299.0,1175.3 299.6,1192.6 300.2,1198.7 300.9,1172.3 301.5,1156.0 302.1,1181.4 302.7,1152.0 303.3,1107.2 303.9,1095.0 304.5,1152.0 305.1,1125.5 305.7,1139.8 306.3,1117.4 307.0,1107.2 307.6,1135.7 308.2,1174.3 308.8,1156.0 309.4,1149.9 310.0,1170.2 310.6,1152.0 311.2,1119.4 311.8,1123.5 312.4,1147.9 313.0,1127.6 313.7,1145.9 314.3,1121.5 314.9,1147.9 315.5,1133.7 316.1,1152.0 316.7,1135.7 317.3,1158.0 317.9,1140.8 318.5,1152.0 319.1,1143.8 319.8,1154.0 320.4,1072.7 321.0,1070.7 321.6,1066.6 322.2,1091.0 322.8,1107.2 323.4,1101.1 324.0,1160.1 324.6,1141.8 325.2,1168.2 325.9,1154.0 326.5,1172.3 327.1,1184.5 327.7,1198.7 328.3,1206.8 328.9,1219.0 329.5,1192.6 330.1,1180.4 330.7,1161.1 331.3,1188.5 332.0,1180.4 332.6,1152.0 333.2,1127.6 333.8,1126.5 334.4,1100.1 335.0,1166.2 335.6,1143.8 336.2,1172.3 336.8,1145.9 337.4,1123.5 338.0,1109.3 338.7,1143.8 339.3,1111.3 339.9,1135.7 340.5,1131.6 341.1,1175.3 341.7,1139.8 342.3,1150.9 342.9,1125.5 343.5,1113.3 344.1,1131.6 344.8,1115.4 345.4,1133.7 346.0,1127.6 346.6,1135.7 347.2,1121.5 347.8,1139.8 348.4,1164.1 349.0,1216.0 349.6,1164.1 350.2,1198.7 350.9,1188.5 351.5,1198.7 352.1,1181.4 352.7,1198.7 353.3,1225.1 353.9,1231.2 354.5,1249.5 355.1,1262.7 355.7,1221.1 356.3,1200.7 357.0,1223.1 357.6,1206.8 358.2,1221.1 358.8,1212.9 359.4,1219.0 360.0,1185.5 360.6,1204.8 361.2,1190.6 361.8,1215.0 362.4,1201.7 363.0,1225.1 363.7,1229.2 364.3,1241.4 364.9,1225.1 365.5,1245.4 366.1,1221.1 366.7,1235.3 367.3,1221.1 367.9,1233.3 368.5,1223.1 369.1,1254.6 369.8,1245.4 370.4,1233.3 371.0,1216.0 371.6,1233.3 372.2,1221.1 372.8,1198.7 373.4,1193.6 374.0,1202.8 374.6,1190.6 375.2,1162.1 375.9,1143.8 376.5,1160.1 377.1,1184.5 377.5,1256.6 378.1,1241.4 378.7,1251.5 379.3,1241.4 379.9,1247.5 380.0,1247.5 380.6,1231.2 381.2,1233.3 381.8,1227.2 382.4,1210.9 383.0,1196.7 383.7,1219.0 384.3,1208.9 384.9,1223.1 385.5,1206.8 386.1,1231.2 386.7,1203.8 387.3,1235.3 387.9,1196.7 388.5,1161.1 389.1,1176.3 389.8,1164.1 390.4,1174.3 391.0,1172.3 391.6,1143.8 392.2,1138.7 392.8,1168.2 393.4,1149.9 394.0,1170.2 394.6,1180.4 395.2,1198.7 395.9,1181.4 396.5,1217.0 397.1,1253.6 397.7,1260.7 398.3,1233.3 398.9,1231.2 399.5,1215.0 400.1,1233.3 400.7,1221.1 401.3,1233.3 402.0,1225.1 402.6,1237.3 403.2,1224.1 403.8,1239.3 404.4,1223.1 405.0,1271.9 405.6,1271.9 406.2,1223.1 406.8,1204.8 407.4,1212.9 408.0,1204.8 408.7,1217.0 409.3,1182.4 409.9,1218.0 410.5,1188.5 411.1,1168.2 411.7,1147.9 412.3,1168.2 412.9,1139.8 413.5,1121.5 414.1,1101.1 414.8,1139.8 415.4,1100.1 416.0,1099.1 416.6,1135.7 417.2,1129.6 417.8,1172.3 418.4,1131.6 419.0,1139.8 419.6,1111.3 420.2,1101.1 420.9,1123.5 421.5,1099.1 422.1,1123.5 422.7,1095.0 423.3,1123.5 423.9,1097.1 424.5,1123.5 425.1,1140.8 425.7,1164.1 426.3,1186.5 427.0,1147.9 427.6,1145.9 428.2,1192.6 428.8,1219.0 429.4,1208.9 430.0,1225.1 430.6,1208.9 431.2,1196.7 431.8,1219.0 432.4,1241.4 433.0,1245.4 433.7,1279.0 434.3,1249.5 434.9,1243.4 435.5,1225.1 436.1,1230.2 436.7,1212.9 437.3,1206.8 437.9,1215.0 438.5,1204.8 439.1,1203.8 439.8,1198.7 440.4,1192.6 441.0,1168.2 441.6,1160.1 442.2,1188.5 442.8,1158.0 443.4,1184.5 444.0,1194.6 444.6,1208.9 445.2,1172.3 445.9,1170.2 446.5,1198.7 447.1,1170.2 447.7,1166.2 448.3,1164.1 448.9,1152.0 449.5,1134.7 450.1,1160.1 450.7,1140.8 451.3,1160.1 452.0,1162.1 452.6,1184.5 453.2,1209.9 453.8,1186.5 454.4,1198.7 455.0,1184.5 455.6,1170.2 456.2,1200.7 456.8,1186.5 457.4,1202.8 458.0,1176.3 458.7,1164.1 459.3,1149.9 459.9,1152.0 460.5,1172.3 461.1,1162.1 461.7,1172.3 462.3,1168.2 462.9,1188.5 463.5,1204.8 464.1,1188.5 464.8,1206.8 465.4,1186.5 466.0,1208.9 466.6,1186.5 467.2,1206.8 467.8,1208.9 468.4,1220.0 469.0,1212.9 469.6,1194.6 470.2,1206.8 470.9,1184.5 471.5,1170.2 472.1,1154.0 472.7,1172.3 473.3,1164.1 473.9,1192.6 474.5,1204.8 475.1,1192.6 475.7,1203.8 476.3,1156.0 477.0,1172.3 477.6,1119.4 478.2,1097.1 478.8,1101.1 479.4,1093.0 480.0,1079.8 480.6,1130.6 481.2,1123.5 481.8,1131.6 482.4,1145.9 483.0,1176.3 483.7,1152.0 484.3,1143.8 484.9,1127.6 485.3,1112.3 485.9,1152.0 486.5,1147.9 487.1,1172.3 487.7,1152.0 488.3,1176.3 488.9,1194.6 489.6,1155.0 490.2,1192.6 490.8,1226.1 491.4,1212.9 492.0,1221.1 492.6,1208.9 493.2,1210.9 493.8,1199.7 494.4,1212.9 495.0,1204.8 495.7,1212.9 496.3,1237.3 496.9,1225.1 497.5,1208.9 498.1,1212.9 498.7,1202.8 499.3,1210.9 499.9,1198.7 500.0,1210.9 500.6,1192.6 501.2,1198.7 501.8,1190.6 502.4,1180.4 503.0,1146.9 503.7,1154.0 504.3,1164.1 504.9,1198.7 505.5,1186.5 506.1,1147.9 506.7,1123.5 507.3,1101.1 507.9,1129.6 508.5,1135.7 509.1,1160.1 509.8,1152.0 510.4,1171.3 511.0,1152.0 511.6,1112.3 512.2,1164.1 512.8,1129.6 513.4,1152.0 514.0,1107.2 514.6,1119.4 515.2,1105.2 515.9,1119.4 516.5,1094.0 517.1,1125.5 517.7,1160.1 518.3,1186.5 518.9,1156.0 519.5,1139.8 520.1,1172.3 520.7,1162.1 521.3,1184.5 522.0,1198.7 522.6,1172.3 523.2,1164.1 523.8,1170.2 524.4,1143.8 525.0,1095.0 525.6,1111.3 526.2,1160.1 526.8,1123.5 527.4,1125.5 528.0,1125.5 528.7,1141.8 529.3,1127.6 529.9,1099.1 530.5,1111.3 531.1,1098.1 531.7,1092.0 532.3,1111.3 532.9,1129.6 533.5,1160.1 534.1,1162.1 534.8,1178.4 535.4,1162.1 536.0,1200.7 536.6,1184.5 537.2,1180.4 537.8,1211.9 538.4,1188.5 539.0,1198.7 539.6,1180.4 540.2,1160.1 540.9,1149.9 541.5,1170.2 542.1,1147.9 542.7,1127.6 543.3,1125.5 543.9,1091.0 544.3,1090.0 544.9,1115.4 545.5,1103.2 546.1,1125.5 546.7,1129.6 547.4,1160.1 548.0,1192.6 548.6,1190.6 549.2,1206.8 549.8,1180.4 550.4,1172.3 551.0,1176.3 551.6,1164.1 552.2,1152.0 552.8,1160.1 553.5,1128.6 554.1,1172.3 554.7,1176.3 555.3,1182.4 555.9,1198.7 556.5,1208.9 557.1,1223.1 557.7,1212.9 558.3,1192.6 558.9,1180.4 559.6,1143.8 560.2,1156.0 560.8,1123.5 561.4,1157.0 562.0,1123.5 562.6,1141.8 563.2,1117.4 563.8,1111.3 564.4,1098.1 565.0,1160.1 565.7,1162.1 566.3,1172.3 566.9,1203.8 567.5,1188.5 568.1,1162.1 568.7,1170.2 569.3,1156.0 569.9,1160.1 570.5,1101.1 571.1,1111.3 571.7,1095.0 572.4,1127.6 573.0,1176.3 573.6,1164.1 574.2,1188.5 574.8,1196.7 575.4,1237.3 576.0,1245.4 576.6,1221.1 577.2,1208.9 577.8,1225.1 578.5,1208.9 579.1,1212.9 579.7,1201.7 580.3,1219.0 580.9,1208.9 581.5,1221.1 582.1,1210.9 582.7,1206.8 583.3,1194.6 583.9,1217.0 584.6,1208.9 585.2,1233.3 585.8,1247.5 586.4,1225.1 587.0,1233.3 587.6,1221.1 588.2,1200.7 588.8,1208.9 589.4,1200.7 590.0,1194.6 590.7,1212.9 591.3,1202.8 591.9,1210.9 592.5,1208.9 593.1,1215.0 593.7,1225.1 594.3,1237.3 594.9,1245.4 595.5,1260.7 596.1,1225.1 596.7,1202.8 597.4,1180.4 598.0,1160.1 598.6,1152.0 599.2,1143.8 599.8,1170.2 600.4,1156.0 601.0,1131.6 601.6,1123.5 602.2,1139.8 602.8,1111.3 603.5,1131.6 604.1,1107.2 604.7,1160.1 605.3,1131.6 605.9,1129.6 606.5,1131.6 607.1,1160.1 607.7,1180.4 608.3,1158.0 608.9,1184.5 609.6,1162.1 610.2,1145.9 610.6,1100.1 611.2,1152.0 611.8,1190.6 612.4,1172.3 613.0,1192.6 613.6,1180.4 614.2,1171.3 614.8,1186.5 615.4,1184.5 616.1,1230.2 616.7,1200.7 617.3,1202.8 617.9,1231.2 618.5,1204.8 619.1,1172.3 619.7,1160.1 620.3,1172.3 620.9,1160.1 621.5,1172.3 622.1,1156.0 622.7,1162.1 623.3,1143.8 623.9,1160.1 624.6,1149.9 625.2,1119.4 625.8,1152.0 626.4,1149.9 627.0,1162.1 627.6,1191.6 628.2,1168.2 628.8,1172.3 629.4,1160.1 630.0,1146.9 630.7,1168.2 631.3,1135.7 631.9,1095.0 632.5,1097.1 633.1,1121.5 633.7,1099.1 634.3,1135.7 634.9,1172.3 635.5,1201.7 636.1,1178.4 636.7,1192.6 637.4,1178.4 638.0,1206.8 638.6,1188.5 639.2,1204.8 639.8,1225.1 640.4,1241.4 641.0,1225.1 641.6,1242.4 642.2,1223.1 642.8,1241.4 643.5,1221.1 644.1,1233.3 644.7,1219.0 645.3,1221.1 645.9,1208.9 646.5,1211.9 647.1,1189.6 647.7,1204.8 648.3,1221.1 648.9,1204.8 649.6,1212.9 650.2,1204.8 650.8,1235.3 651.4,1241.4 652.0,1248.5 652.6,1249.5 653.2,1196.7 653.8,1188.5 654.4,1168.2 655.0,1184.5 655.7,1219.0 656.3,1250.5 656.9,1245.4 657.5,1249.5 658.1,1235.3 658.7,1240.4 659.3,1231.2 659.9,1210.9 660.5,1192.6 661.1,1172.3 661.7,1145.9 662.4,1143.8 663.0,1184.5 663.6,1176.3 664.2,1168.2 664.8,1184.5 665.4,1208.9 666.0,1233.3 666.6,1212.9 667.2,1223.1 667.8,1206.8 668.5,1188.5 669.1,1221.1 669.7,1198.7 670.3,1220.0 670.9,1208.9 671.5,1192.6 672.1,1204.8 672.7,1190.6 673.3,1176.3 673.9,1172.3 674.6,1156.0 675.2,1160.1 675.8,1139.8 676.4,1143.8 677.0,1129.6 677.6,1143.8 678.2,1128.6 678.8,1152.0 679.4,1164.1" fill="none" stroke="#1f77b4" stroke-width="1.35" stroke-linejoin="round" stroke-linecap="round"/>
<rect x="25.5" y="1032.7" width="654.4" height="269.4" fill="none" stroke="#333333" stroke-width="0.85"/>
<line x1="53.5" y1="1302.1" x2="53.5" y2="1305.2" stroke="#333333" stroke-width="0.85"/>
<line x1="83.3" y1="1302.1" x2="83.3" y2="1304.1" stroke="#333333" stroke-width="0.85"/>
<line x1="113.2" y1="1302.1" x2="113.2" y2="1304.1" stroke="#333333" stroke-width="0.85"/>
<line x1="143.0" y1="1302.1" x2="143.0" y2="1304.1" stroke="#333333" stroke-width="0.85"/>
<line x1="172.9" y1="1302.1" x2="172.9" y2="1305.2" stroke="#333333" stroke-width="0.85"/>
<line x1="202.7" y1="1302.1" x2="202.7" y2="1304.1" stroke="#333333" stroke-width="0.85"/>
<line x1="232.5" y1="1302.1" x2="232.5" y2="1304.1" stroke="#333333" stroke-width="0.85"/>
<line x1="262.4" y1="1302.1" x2="262.4" y2="1304.1" stroke="#333333" stroke-width="0.85"/>
<line x1="292.2" y1="1302.1" x2="292.2" y2="1305.2" stroke="#333333" stroke-width="0.85"/>
<line x1="322.1" y1="1302.1" x2="322.1" y2="1304.1" stroke="#333333" stroke-width="0.85"/>
<line x1="351.9" y1="1302.1" x2="351.9" y2="1304.1" stroke="#333333" stroke-width="0.85"/>
<line x1="381.7" y1="1302.1" x2="381.7" y2="1304.1" stroke="#333333" stroke-width="0.85"/>
<line x1="411.6" y1="1302.1" x2="411.6" y2="1305.2" stroke="#333333" stroke-width="0.85"/>
<line x1="441.4" y1="1302.1" x2="441.4" y2="1304.1" stroke="#333333" stroke-width="0.85"/>
<line x1="471.3" y1="1302.1" x2="471.3" y2="1304.1" stroke="#333333" stroke-width="0.85"/>
<line x1="501.1" y1="1302.1" x2="501.1" y2="1304.1" stroke="#333333" stroke-width="0.85"/>
<line x1="530.9" y1="1302.1" x2="530.9" y2="1305.2" stroke="#333333" stroke-width="0.85"/>
<line x1="560.8" y1="1302.1" x2="560.8" y2="1304.1" stroke="#333333" stroke-width="0.85"/>
<line x1="590.6" y1="1302.1" x2="590.6" y2="1304.1" stroke="#333333" stroke-width="0.85"/>
<line x1="620.5" y1="1302.1" x2="620.5" y2="1304.1" stroke="#333333" stroke-width="0.85"/>
<line x1="650.3" y1="1302.1" x2="650.3" y2="1305.2" stroke="#333333" stroke-width="0.85"/>
<line x1="25.5" y1="1302.1" x2="25.5" y2="1304.1" stroke="#333333" stroke-width="0.85"/>
<line x1="679.9" y1="1302.1" x2="679.9" y2="1304.1" stroke="#333333" stroke-width="0.85"/>
<text x="53.5" y="1315.0" font-size="9.44" text-anchor="middle" textLength="18.3" lengthAdjust="spacingAndGlyphs">2017</text>
<text x="172.9" y="1315.0" font-size="9.44" text-anchor="middle" textLength="18.3" lengthAdjust="spacingAndGlyphs">2018</text>
<text x="292.2" y="1315.0" font-size="9.44" text-anchor="middle" textLength="18.3" lengthAdjust="spacingAndGlyphs">2019</text>
<text x="411.6" y="1315.0" font-size="9.44" text-anchor="middle" textLength="18.3" lengthAdjust="spacingAndGlyphs">2020</text>
<text x="530.9" y="1315.0" font-size="9.44" text-anchor="middle" textLength="18.3" lengthAdjust="spacingAndGlyphs">2021</text>
<text x="650.3" y="1315.0" font-size="9.44" text-anchor="middle" textLength="18.3" lengthAdjust="spacingAndGlyphs">2022</text>
<line x1="22.4" y1="1054.1" x2="25.5" y2="1054.1" stroke="#333333" stroke-width="0.85"/>
<text x="10.2" y="1057.5" font-size="9.44" textLength="8.8" lengthAdjust="spacingAndGlyphs">90</text>
<line x1="22.4" y1="1086.4" x2="25.5" y2="1086.4" stroke="#333333" stroke-width="0.85"/>
<text x="10.2" y="1089.8" font-size="9.44" textLength="8.8" lengthAdjust="spacingAndGlyphs">80</text>
<line x1="22.4" y1="1118.6" x2="25.5" y2="1118.6" stroke="#333333" stroke-width="0.85"/>
<text x="10.2" y="1122.0" font-size="9.44" textLength="8.8" lengthAdjust="spacingAndGlyphs">70</text>
<line x1="22.4" y1="1150.8" x2="25.5" y2="1150.8" stroke="#333333" stroke-width="0.85"/>
<text x="10.2" y="1154.2" font-size="9.44" textLength="8.8" lengthAdjust="spacingAndGlyphs">60</text>
<line x1="22.4" y1="1183.1" x2="25.5" y2="1183.1" stroke="#333333" stroke-width="0.85"/>
<text x="10.2" y="1186.5" font-size="9.44" textLength="8.8" lengthAdjust="spacingAndGlyphs">50</text>
<line x1="22.4" y1="1215.3" x2="25.5" y2="1215.3" stroke="#333333" stroke-width="0.85"/>
<text x="10.2" y="1218.7" font-size="9.44" textLength="8.8" lengthAdjust="spacingAndGlyphs">40</text>
<line x1="22.4" y1="1247.0" x2="25.5" y2="1247.0" stroke="#333333" stroke-width="0.85"/>
<text x="10.2" y="1250.4" font-size="9.44" textLength="8.8" lengthAdjust="spacingAndGlyphs">30</text>
<line x1="22.4" y1="1279.0" x2="25.5" y2="1279.0" stroke="#333333" stroke-width="0.85"/>
<text x="10.2" y="1282.4" font-size="9.44" textLength="8.8" lengthAdjust="spacingAndGlyphs">20</text>
<text x="351.9" y="1326.5" font-size="9.44" text-anchor="middle" textLength="16.1" lengthAdjust="spacingAndGlyphs">time</text>
<rect x="507.3" y="1036.3" width="170.0" height="15.1" rx="1.6" fill="#fff" fill-opacity="0.8" stroke="#cfcfcf" stroke-width="0.8"/>
<line x1="509.5" y1="1043.3" x2="526.2" y2="1043.3" stroke="#1f77b4" stroke-width="1.35"/>
<text x="532.1" y="1046.4" font-size="9.44" textLength="139.9" lengthAdjust="spacingAndGlyphs">RSI via Exponential Moving Average</text>
<text class="cap" stroke="#111" stroke-width="0.22" x="282.8" y="1349.9" font-size="14.3" textLength="116.8" lengthAdjust="spacingAndGlyphs">(iv) RSI of Litecoin</text>
</g>
</svg></body></html>
